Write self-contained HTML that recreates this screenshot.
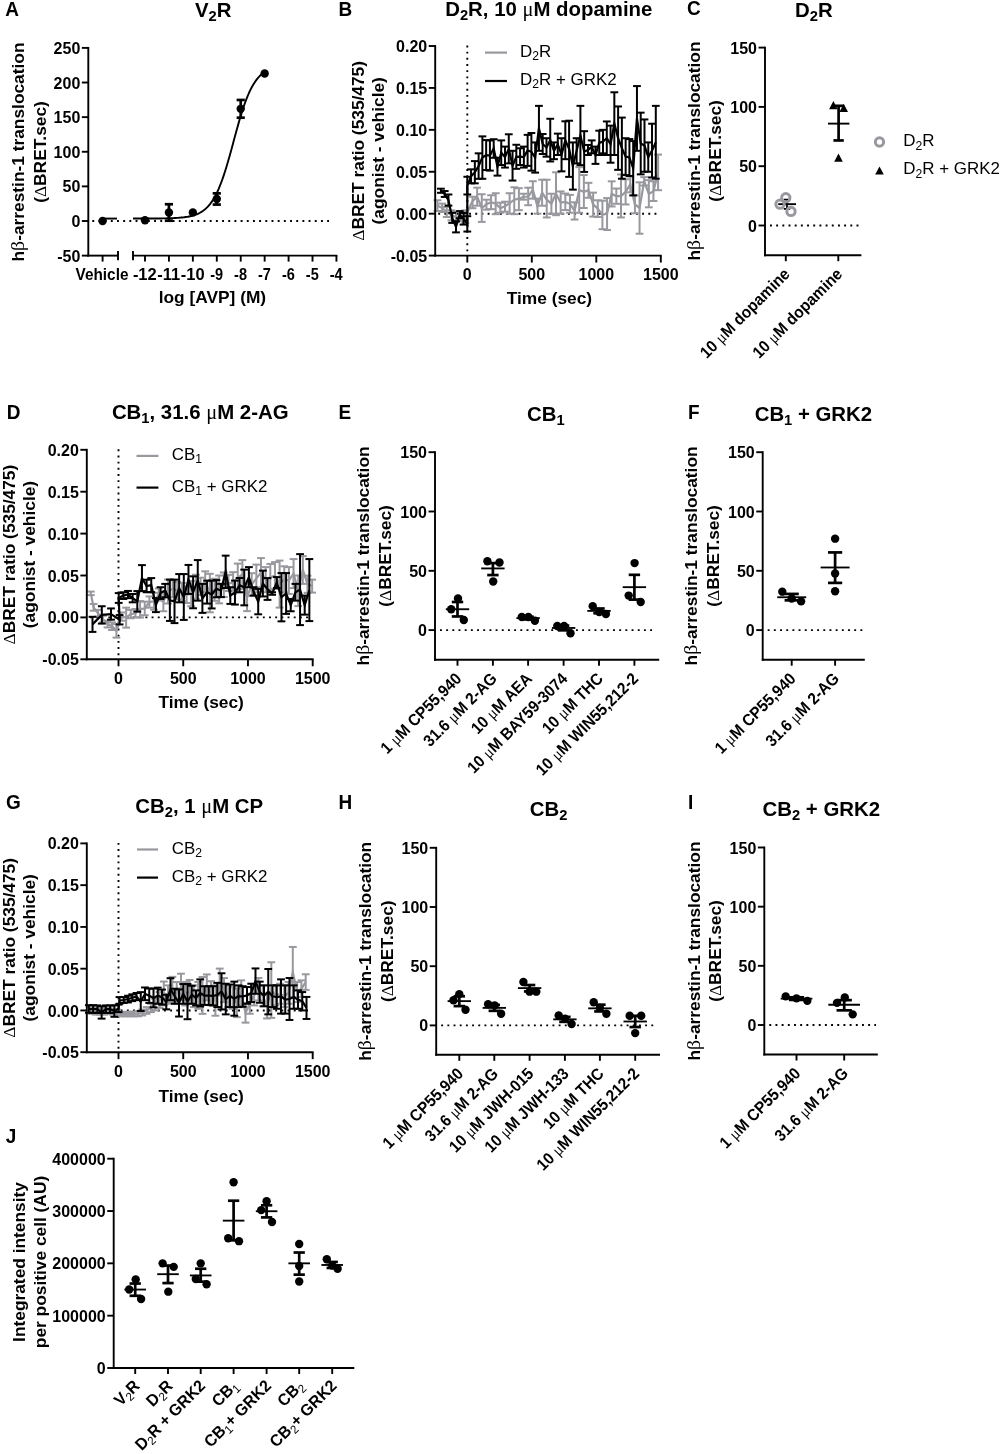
<!DOCTYPE html>
<html lang="en">
<head>
<meta charset="utf-8">
<title>Figure</title>
<style>html,body{margin:0;padding:0;background:#fff}svg{display:block;will-change:transform}</style>
</head>
<body>
<svg width="1000" height="1454" viewBox="0 0 1000 1454" font-family="'Liberation Sans', sans-serif" fill="#000">
<rect width="1000" height="1454" fill="#fff"/>
<line x1="92.3" y1="221" x2="333" y2="221" stroke="#000" stroke-width="1.9" stroke-dasharray="1.9 4.28" stroke-dashoffset="0"/>
<polyline points="133.03,218.57 134.13,218.57 135.23,218.56 136.33,218.56 137.42,218.56 138.52,218.56 139.62,218.56 140.71,218.56 141.81,218.55 142.91,218.55 144,218.55 145.1,218.55 146.2,218.54 147.29,218.54 148.39,218.53 149.49,218.53 150.58,218.52 151.68,218.52 152.78,218.51 153.87,218.5 154.97,218.5 156.07,218.49 157.16,218.48 158.26,218.47 159.36,218.45 160.45,218.44 161.55,218.43 162.65,218.41 163.75,218.39 164.84,218.37 165.94,218.35 167.04,218.32 168.13,218.29 169.23,218.26 170.33,218.23 171.42,218.19 172.52,218.14 173.62,218.1 174.71,218.04 175.81,217.98 176.91,217.92 178,217.84 179.1,217.76 180.2,217.67 181.29,217.57 182.39,217.46 183.49,217.34 184.58,217.2 185.68,217.05 186.78,216.88 187.87,216.7 188.97,216.49 190.07,216.26 191.16,216.01 192.26,215.73 193.36,215.42 194.46,215.07 195.55,214.69 196.65,214.27 197.75,213.81 198.84,213.3 199.94,212.73 201.04,212.11 202.13,211.42 203.23,210.67 204.33,209.84 205.42,208.93 206.52,207.93 207.62,206.83 208.71,205.63 209.81,204.33 210.91,202.9 212,201.35 213.1,199.67 214.2,197.85 215.29,195.88 216.39,193.76 217.49,191.48 218.58,189.05 219.68,186.44 220.78,183.68 221.88,180.75 222.97,177.66 224.07,174.41 225.17,171.01 226.26,167.47 227.36,163.8 228.46,160.03 229.55,156.15 230.65,152.19 231.75,148.18 232.84,144.13 233.94,140.07 235.04,136.01 236.13,131.99 237.23,128.02 238.33,124.12 239.42,120.31 240.52,116.61 241.62,113.04 242.71,109.6 243.81,106.31 244.91,103.17 246,100.2 247.1,97.39 248.2,94.74 249.29,92.26 250.39,89.94 251.49,87.78 252.59,85.77 253.68,83.91 254.78,82.19 255.88,80.6 256.97,79.15 258.07,77.81 259.17,76.58 260.26,75.46 261.36,74.43 262.46,73.5 263.55,72.65 264.65,71.87" fill="none" stroke="#000" stroke-width="1.9"/>
<line x1="102.6" y1="218.58" x2="117" y2="218.58" stroke="#000" stroke-width="1.9"/>
<circle cx="145" cy="220.31" r="4.2" fill="#000"/>
<line x1="168.93" y1="204.24" x2="168.93" y2="220.72" stroke="#000" stroke-width="2.7"/>
<line x1="164.83" y1="204.24" x2="173.03" y2="204.24" stroke="#000" stroke-width="2.7"/>
<line x1="164.83" y1="220.72" x2="173.03" y2="220.72" stroke="#000" stroke-width="2.7"/>
<circle cx="168.93" cy="212.48" r="4.2" fill="#000"/>
<circle cx="192.86" cy="212.41" r="4.2" fill="#000"/>
<line x1="216.79" y1="193.37" x2="216.79" y2="204.59" stroke="#000" stroke-width="2.7"/>
<line x1="212.69" y1="193.37" x2="220.89" y2="193.37" stroke="#000" stroke-width="2.7"/>
<line x1="212.69" y1="204.59" x2="220.89" y2="204.59" stroke="#000" stroke-width="2.7"/>
<circle cx="216.79" cy="198.98" r="4.2" fill="#000"/>
<line x1="240.72" y1="99.97" x2="240.72" y2="117.69" stroke="#000" stroke-width="2.7"/>
<line x1="236.62" y1="99.97" x2="244.82" y2="99.97" stroke="#000" stroke-width="2.7"/>
<line x1="236.62" y1="117.69" x2="244.82" y2="117.69" stroke="#000" stroke-width="2.7"/>
<circle cx="240.72" cy="108.83" r="4.2" fill="#000"/>
<circle cx="264.65" cy="73.52" r="4.2" fill="#000"/>
<circle cx="102.6" cy="221" r="4.2" fill="#000"/>
<line x1="88.3" y1="46.95" x2="88.3" y2="256.57" stroke="#000" stroke-width="1.9"/>
<line x1="81.85" y1="47.9" x2="88.3" y2="47.9" stroke="#000" stroke-width="1.9"/>
<text transform="translate(80.3 53.99) scale(0.926 1)" font-size="17.3" font-weight="bold" text-anchor="end">250</text>
<line x1="81.85" y1="82.52" x2="88.3" y2="82.52" stroke="#000" stroke-width="1.9"/>
<text transform="translate(80.3 88.61) scale(0.926 1)" font-size="17.3" font-weight="bold" text-anchor="end">200</text>
<line x1="81.85" y1="117.14" x2="88.3" y2="117.14" stroke="#000" stroke-width="1.9"/>
<text transform="translate(80.3 123.23) scale(0.926 1)" font-size="17.3" font-weight="bold" text-anchor="end">150</text>
<line x1="81.85" y1="151.76" x2="88.3" y2="151.76" stroke="#000" stroke-width="1.9"/>
<text transform="translate(80.3 157.85) scale(0.926 1)" font-size="17.3" font-weight="bold" text-anchor="end">100</text>
<line x1="81.85" y1="186.38" x2="88.3" y2="186.38" stroke="#000" stroke-width="1.9"/>
<text transform="translate(80.3 192.47) scale(0.926 1)" font-size="17.3" font-weight="bold" text-anchor="end">50</text>
<line x1="81.85" y1="221" x2="88.3" y2="221" stroke="#000" stroke-width="1.9"/>
<text transform="translate(80.3 227.09) scale(0.926 1)" font-size="17.3" font-weight="bold" text-anchor="end">0</text>
<line x1="81.85" y1="255.62" x2="88.3" y2="255.62" stroke="#000" stroke-width="1.9"/>
<text transform="translate(80.3 261.71) scale(0.926 1)" font-size="17.3" font-weight="bold" text-anchor="end">-50</text>
<line x1="87.35" y1="255.62" x2="118" y2="255.62" stroke="#000" stroke-width="1.9"/>
<line x1="118" y1="250.92" x2="118" y2="260.32" stroke="#000" stroke-width="1.9"/>
<line x1="102.6" y1="255.62" x2="102.6" y2="261.62" stroke="#000" stroke-width="1.9"/>
<line x1="133" y1="255.62" x2="337.39" y2="255.62" stroke="#000" stroke-width="1.9"/>
<line x1="133" y1="250.92" x2="133" y2="260.32" stroke="#000" stroke-width="1.9"/>
<line x1="145" y1="255.62" x2="145" y2="261.62" stroke="#000" stroke-width="1.9"/>
<text transform="translate(144.8 280)" font-size="16.5" font-weight="bold" text-anchor="middle">-12</text>
<line x1="168.93" y1="255.62" x2="168.93" y2="261.62" stroke="#000" stroke-width="1.9"/>
<text transform="translate(168.73 280)" font-size="16.5" font-weight="bold" text-anchor="middle">-11</text>
<line x1="192.86" y1="255.62" x2="192.86" y2="261.62" stroke="#000" stroke-width="1.9"/>
<text transform="translate(192.66 280)" font-size="16.5" font-weight="bold" text-anchor="middle">-10</text>
<line x1="216.79" y1="255.62" x2="216.79" y2="261.62" stroke="#000" stroke-width="1.9"/>
<text transform="translate(216.59 280) scale(0.880 1)" font-size="16.5" font-weight="bold" text-anchor="middle">-9</text>
<line x1="240.72" y1="255.62" x2="240.72" y2="261.62" stroke="#000" stroke-width="1.9"/>
<text transform="translate(240.52 280) scale(0.880 1)" font-size="16.5" font-weight="bold" text-anchor="middle">-8</text>
<line x1="264.65" y1="255.62" x2="264.65" y2="261.62" stroke="#000" stroke-width="1.9"/>
<text transform="translate(264.45 280) scale(0.880 1)" font-size="16.5" font-weight="bold" text-anchor="middle">-7</text>
<line x1="288.58" y1="255.62" x2="288.58" y2="261.62" stroke="#000" stroke-width="1.9"/>
<text transform="translate(288.38 280) scale(0.880 1)" font-size="16.5" font-weight="bold" text-anchor="middle">-6</text>
<line x1="312.51" y1="255.62" x2="312.51" y2="261.62" stroke="#000" stroke-width="1.9"/>
<text transform="translate(312.31 280) scale(0.880 1)" font-size="16.5" font-weight="bold" text-anchor="middle">-5</text>
<line x1="336.44" y1="255.62" x2="336.44" y2="261.62" stroke="#000" stroke-width="1.9"/>
<text transform="translate(336.24 280) scale(0.880 1)" font-size="16.5" font-weight="bold" text-anchor="middle">-4</text>
<text transform="translate(102 280) scale(0.930 1)" font-size="16.5" font-weight="bold" text-anchor="middle">Vehicle</text>
<text transform="translate(212.4 302.6) scale(1.020 1)" font-size="17" font-weight="bold" text-anchor="middle">log [AVP] (M)</text>
<text transform="translate(24.1 152) rotate(-90) scale(1.020 1)" font-size="17" font-weight="bold" text-anchor="middle">h<tspan font-family="'Liberation Serif', serif" font-weight="normal" font-size="114%">&#946;</tspan>-arrestin-1 translocation</text>
<text transform="translate(45.6 152) rotate(-90) scale(1.020 1)" font-size="17" font-weight="bold" text-anchor="middle">(<tspan font-family="'Liberation Serif', serif" font-weight="normal">&#916;</tspan>BRET.sec)</text>
<text transform="translate(5.3 16.3) scale(0.935 1)" font-size="20.3" font-weight="bold" text-anchor="start">A</text>
<text transform="translate(213.2 16.9)" font-size="20.4" font-weight="bold" text-anchor="middle">V<tspan dy="4.28" font-size="14.69">2</tspan><tspan dy="-4.28">&#8203;</tspan>R</text>
<line x1="467.3" y1="45.5" x2="467.3" y2="255.6" stroke="#000" stroke-width="1.9" stroke-dasharray="1.9 4.28" stroke-dashoffset="0"/>
<line x1="438.2" y1="213.68" x2="658.7" y2="213.68" stroke="#000" stroke-width="1.9" stroke-dasharray="1.9 4.28" stroke-dashoffset="0"/>
<line x1="437.46" y1="200.27" x2="437.46" y2="211" stroke="#98989f" stroke-width="2"/>
<line x1="433.56" y1="200.27" x2="441.36" y2="200.27" stroke="#98989f" stroke-width="2"/>
<line x1="433.56" y1="211" x2="441.36" y2="211" stroke="#98989f" stroke-width="2"/>
<line x1="442.1" y1="203.62" x2="442.1" y2="212" stroke="#98989f" stroke-width="2"/>
<line x1="438.2" y1="203.62" x2="446" y2="203.62" stroke="#98989f" stroke-width="2"/>
<line x1="438.2" y1="212" x2="446" y2="212" stroke="#98989f" stroke-width="2"/>
<line x1="446.74" y1="206.97" x2="446.74" y2="217.03" stroke="#98989f" stroke-width="2"/>
<line x1="442.84" y1="206.97" x2="450.64" y2="206.97" stroke="#98989f" stroke-width="2"/>
<line x1="442.84" y1="217.03" x2="450.64" y2="217.03" stroke="#98989f" stroke-width="2"/>
<line x1="451.38" y1="210.33" x2="451.38" y2="220.39" stroke="#98989f" stroke-width="2"/>
<line x1="447.48" y1="210.33" x2="455.28" y2="210.33" stroke="#98989f" stroke-width="2"/>
<line x1="447.48" y1="220.39" x2="455.28" y2="220.39" stroke="#98989f" stroke-width="2"/>
<line x1="456.02" y1="212" x2="456.02" y2="222.06" stroke="#98989f" stroke-width="2"/>
<line x1="452.12" y1="212" x2="459.92" y2="212" stroke="#98989f" stroke-width="2"/>
<line x1="452.12" y1="222.06" x2="459.92" y2="222.06" stroke="#98989f" stroke-width="2"/>
<line x1="460.66" y1="211.16" x2="460.66" y2="221.23" stroke="#98989f" stroke-width="2"/>
<line x1="456.76" y1="211.16" x2="464.56" y2="211.16" stroke="#98989f" stroke-width="2"/>
<line x1="456.76" y1="221.23" x2="464.56" y2="221.23" stroke="#98989f" stroke-width="2"/>
<line x1="465.3" y1="210.33" x2="465.3" y2="222.9" stroke="#98989f" stroke-width="2"/>
<line x1="461.4" y1="210.33" x2="469.2" y2="210.33" stroke="#98989f" stroke-width="2"/>
<line x1="461.4" y1="222.9" x2="469.2" y2="222.9" stroke="#98989f" stroke-width="2"/>
<line x1="472.5" y1="196.74" x2="472.5" y2="208.23" stroke="#98989f" stroke-width="2"/>
<line x1="468.6" y1="196.74" x2="476.4" y2="196.74" stroke="#98989f" stroke-width="2"/>
<line x1="468.6" y1="208.23" x2="476.4" y2="208.23" stroke="#98989f" stroke-width="2"/>
<line x1="477.14" y1="187.69" x2="477.14" y2="205.72" stroke="#98989f" stroke-width="2"/>
<line x1="473.24" y1="187.69" x2="481.04" y2="187.69" stroke="#98989f" stroke-width="2"/>
<line x1="473.24" y1="205.72" x2="481.04" y2="205.72" stroke="#98989f" stroke-width="2"/>
<line x1="481.78" y1="194.23" x2="481.78" y2="221.9" stroke="#98989f" stroke-width="2"/>
<line x1="477.88" y1="194.23" x2="485.68" y2="194.23" stroke="#98989f" stroke-width="2"/>
<line x1="477.88" y1="221.9" x2="485.68" y2="221.9" stroke="#98989f" stroke-width="2"/>
<line x1="486.42" y1="199.68" x2="486.42" y2="209.66" stroke="#98989f" stroke-width="2"/>
<line x1="482.52" y1="199.68" x2="490.32" y2="199.68" stroke="#98989f" stroke-width="2"/>
<line x1="482.52" y1="209.66" x2="490.32" y2="209.66" stroke="#98989f" stroke-width="2"/>
<line x1="491.06" y1="195.24" x2="491.06" y2="209.15" stroke="#98989f" stroke-width="2"/>
<line x1="487.16" y1="195.24" x2="494.96" y2="195.24" stroke="#98989f" stroke-width="2"/>
<line x1="487.16" y1="209.15" x2="494.96" y2="209.15" stroke="#98989f" stroke-width="2"/>
<line x1="495.7" y1="193.22" x2="495.7" y2="214.18" stroke="#98989f" stroke-width="2"/>
<line x1="491.8" y1="193.22" x2="499.6" y2="193.22" stroke="#98989f" stroke-width="2"/>
<line x1="491.8" y1="214.18" x2="499.6" y2="214.18" stroke="#98989f" stroke-width="2"/>
<line x1="500.34" y1="202.7" x2="500.34" y2="212.67" stroke="#98989f" stroke-width="2"/>
<line x1="496.44" y1="202.7" x2="504.24" y2="202.7" stroke="#98989f" stroke-width="2"/>
<line x1="496.44" y1="212.67" x2="504.24" y2="212.67" stroke="#98989f" stroke-width="2"/>
<line x1="504.98" y1="201.69" x2="504.98" y2="211.67" stroke="#98989f" stroke-width="2"/>
<line x1="501.08" y1="201.69" x2="508.88" y2="201.69" stroke="#98989f" stroke-width="2"/>
<line x1="501.08" y1="211.67" x2="508.88" y2="211.67" stroke="#98989f" stroke-width="2"/>
<line x1="509.62" y1="193.22" x2="509.62" y2="213.68" stroke="#98989f" stroke-width="2"/>
<line x1="505.72" y1="193.22" x2="513.52" y2="193.22" stroke="#98989f" stroke-width="2"/>
<line x1="505.72" y1="213.68" x2="513.52" y2="213.68" stroke="#98989f" stroke-width="2"/>
<line x1="514.26" y1="187.27" x2="514.26" y2="214.18" stroke="#98989f" stroke-width="2"/>
<line x1="510.36" y1="187.27" x2="518.16" y2="187.27" stroke="#98989f" stroke-width="2"/>
<line x1="510.36" y1="214.18" x2="518.16" y2="214.18" stroke="#98989f" stroke-width="2"/>
<line x1="518.9" y1="188.19" x2="518.9" y2="210.16" stroke="#98989f" stroke-width="2"/>
<line x1="515" y1="188.19" x2="522.8" y2="188.19" stroke="#98989f" stroke-width="2"/>
<line x1="515" y1="210.16" x2="522.8" y2="210.16" stroke="#98989f" stroke-width="2"/>
<line x1="523.54" y1="193.73" x2="523.54" y2="199.68" stroke="#98989f" stroke-width="2"/>
<line x1="519.64" y1="193.73" x2="527.44" y2="193.73" stroke="#98989f" stroke-width="2"/>
<line x1="519.64" y1="199.68" x2="527.44" y2="199.68" stroke="#98989f" stroke-width="2"/>
<line x1="528.18" y1="187.69" x2="528.18" y2="205.21" stroke="#98989f" stroke-width="2"/>
<line x1="524.28" y1="187.69" x2="532.08" y2="187.69" stroke="#98989f" stroke-width="2"/>
<line x1="524.28" y1="205.21" x2="532.08" y2="205.21" stroke="#98989f" stroke-width="2"/>
<line x1="532.82" y1="181.23" x2="532.82" y2="198.67" stroke="#98989f" stroke-width="2"/>
<line x1="528.92" y1="181.23" x2="536.72" y2="181.23" stroke="#98989f" stroke-width="2"/>
<line x1="528.92" y1="198.67" x2="536.72" y2="198.67" stroke="#98989f" stroke-width="2"/>
<line x1="537.46" y1="198.67" x2="537.46" y2="213.68" stroke="#98989f" stroke-width="2"/>
<line x1="533.56" y1="198.67" x2="541.36" y2="198.67" stroke="#98989f" stroke-width="2"/>
<line x1="533.56" y1="213.68" x2="541.36" y2="213.68" stroke="#98989f" stroke-width="2"/>
<line x1="542.1" y1="179.72" x2="542.1" y2="205.72" stroke="#98989f" stroke-width="2"/>
<line x1="538.2" y1="179.72" x2="546" y2="179.72" stroke="#98989f" stroke-width="2"/>
<line x1="538.2" y1="205.72" x2="546" y2="205.72" stroke="#98989f" stroke-width="2"/>
<line x1="546.74" y1="179.72" x2="546.74" y2="217.45" stroke="#98989f" stroke-width="2"/>
<line x1="542.84" y1="179.72" x2="550.64" y2="179.72" stroke="#98989f" stroke-width="2"/>
<line x1="542.84" y1="217.45" x2="550.64" y2="217.45" stroke="#98989f" stroke-width="2"/>
<line x1="551.38" y1="193.73" x2="551.38" y2="213.68" stroke="#98989f" stroke-width="2"/>
<line x1="547.48" y1="193.73" x2="555.28" y2="193.73" stroke="#98989f" stroke-width="2"/>
<line x1="547.48" y1="213.68" x2="555.28" y2="213.68" stroke="#98989f" stroke-width="2"/>
<line x1="556.02" y1="172.26" x2="556.02" y2="215.19" stroke="#98989f" stroke-width="2"/>
<line x1="552.12" y1="172.26" x2="559.92" y2="172.26" stroke="#98989f" stroke-width="2"/>
<line x1="552.12" y1="215.19" x2="559.92" y2="215.19" stroke="#98989f" stroke-width="2"/>
<line x1="560.66" y1="191.46" x2="560.66" y2="213.68" stroke="#98989f" stroke-width="2"/>
<line x1="556.76" y1="191.46" x2="564.56" y2="191.46" stroke="#98989f" stroke-width="2"/>
<line x1="556.76" y1="213.68" x2="564.56" y2="213.68" stroke="#98989f" stroke-width="2"/>
<line x1="565.3" y1="193.56" x2="565.3" y2="210.07" stroke="#98989f" stroke-width="2"/>
<line x1="561.4" y1="193.56" x2="569.2" y2="193.56" stroke="#98989f" stroke-width="2"/>
<line x1="561.4" y1="210.07" x2="569.2" y2="210.07" stroke="#98989f" stroke-width="2"/>
<line x1="569.94" y1="194.9" x2="569.94" y2="212.76" stroke="#98989f" stroke-width="2"/>
<line x1="566.04" y1="194.9" x2="573.84" y2="194.9" stroke="#98989f" stroke-width="2"/>
<line x1="566.04" y1="212.76" x2="573.84" y2="212.76" stroke="#98989f" stroke-width="2"/>
<line x1="574.58" y1="202.28" x2="574.58" y2="219.55" stroke="#98989f" stroke-width="2"/>
<line x1="570.68" y1="202.28" x2="578.48" y2="202.28" stroke="#98989f" stroke-width="2"/>
<line x1="570.68" y1="219.55" x2="578.48" y2="219.55" stroke="#98989f" stroke-width="2"/>
<line x1="579.22" y1="167.15" x2="579.22" y2="212.76" stroke="#98989f" stroke-width="2"/>
<line x1="575.32" y1="167.15" x2="583.12" y2="167.15" stroke="#98989f" stroke-width="2"/>
<line x1="575.32" y1="212.76" x2="583.12" y2="212.76" stroke="#98989f" stroke-width="2"/>
<line x1="583.86" y1="175.03" x2="583.86" y2="207.98" stroke="#98989f" stroke-width="2"/>
<line x1="579.96" y1="175.03" x2="587.76" y2="175.03" stroke="#98989f" stroke-width="2"/>
<line x1="579.96" y1="207.98" x2="587.76" y2="207.98" stroke="#98989f" stroke-width="2"/>
<line x1="588.5" y1="182.83" x2="588.5" y2="197.75" stroke="#98989f" stroke-width="2"/>
<line x1="584.6" y1="182.83" x2="592.4" y2="182.83" stroke="#98989f" stroke-width="2"/>
<line x1="584.6" y1="197.75" x2="592.4" y2="197.75" stroke="#98989f" stroke-width="2"/>
<line x1="593.14" y1="192.64" x2="593.14" y2="216.61" stroke="#98989f" stroke-width="2"/>
<line x1="589.24" y1="192.64" x2="597.04" y2="192.64" stroke="#98989f" stroke-width="2"/>
<line x1="589.24" y1="216.61" x2="597.04" y2="216.61" stroke="#98989f" stroke-width="2"/>
<line x1="597.78" y1="200.27" x2="597.78" y2="217.03" stroke="#98989f" stroke-width="2"/>
<line x1="593.88" y1="200.27" x2="601.68" y2="200.27" stroke="#98989f" stroke-width="2"/>
<line x1="593.88" y1="217.03" x2="601.68" y2="217.03" stroke="#98989f" stroke-width="2"/>
<line x1="602.42" y1="200.68" x2="602.42" y2="229.19" stroke="#98989f" stroke-width="2"/>
<line x1="598.52" y1="200.68" x2="606.32" y2="200.68" stroke="#98989f" stroke-width="2"/>
<line x1="598.52" y1="229.19" x2="606.32" y2="229.19" stroke="#98989f" stroke-width="2"/>
<line x1="607.06" y1="198.09" x2="607.06" y2="230.03" stroke="#98989f" stroke-width="2"/>
<line x1="603.16" y1="198.09" x2="610.96" y2="198.09" stroke="#98989f" stroke-width="2"/>
<line x1="603.16" y1="230.03" x2="610.96" y2="230.03" stroke="#98989f" stroke-width="2"/>
<line x1="611.7" y1="181.32" x2="611.7" y2="206.47" stroke="#98989f" stroke-width="2"/>
<line x1="607.8" y1="181.32" x2="615.6" y2="181.32" stroke="#98989f" stroke-width="2"/>
<line x1="607.8" y1="206.47" x2="615.6" y2="206.47" stroke="#98989f" stroke-width="2"/>
<line x1="616.34" y1="188.53" x2="616.34" y2="203.79" stroke="#98989f" stroke-width="2"/>
<line x1="612.44" y1="188.53" x2="620.24" y2="188.53" stroke="#98989f" stroke-width="2"/>
<line x1="612.44" y1="203.79" x2="620.24" y2="203.79" stroke="#98989f" stroke-width="2"/>
<line x1="620.98" y1="174.44" x2="620.98" y2="217.45" stroke="#98989f" stroke-width="2"/>
<line x1="617.08" y1="174.44" x2="624.88" y2="174.44" stroke="#98989f" stroke-width="2"/>
<line x1="617.08" y1="217.45" x2="624.88" y2="217.45" stroke="#98989f" stroke-width="2"/>
<line x1="625.62" y1="179.31" x2="625.62" y2="204.46" stroke="#98989f" stroke-width="2"/>
<line x1="621.72" y1="179.31" x2="629.52" y2="179.31" stroke="#98989f" stroke-width="2"/>
<line x1="621.72" y1="204.46" x2="629.52" y2="204.46" stroke="#98989f" stroke-width="2"/>
<line x1="630.26" y1="176.54" x2="630.26" y2="192.3" stroke="#98989f" stroke-width="2"/>
<line x1="626.36" y1="176.54" x2="634.16" y2="176.54" stroke="#98989f" stroke-width="2"/>
<line x1="626.36" y1="192.3" x2="634.16" y2="192.3" stroke="#98989f" stroke-width="2"/>
<line x1="634.9" y1="195.4" x2="634.9" y2="213.26" stroke="#98989f" stroke-width="2"/>
<line x1="631" y1="195.4" x2="638.8" y2="195.4" stroke="#98989f" stroke-width="2"/>
<line x1="631" y1="213.26" x2="638.8" y2="213.26" stroke="#98989f" stroke-width="2"/>
<line x1="639.54" y1="182.32" x2="639.54" y2="233.72" stroke="#98989f" stroke-width="2"/>
<line x1="635.64" y1="182.32" x2="643.44" y2="182.32" stroke="#98989f" stroke-width="2"/>
<line x1="635.64" y1="233.72" x2="643.44" y2="233.72" stroke="#98989f" stroke-width="2"/>
<line x1="644.18" y1="177.13" x2="644.18" y2="185.51" stroke="#98989f" stroke-width="2"/>
<line x1="640.28" y1="177.13" x2="648.08" y2="177.13" stroke="#98989f" stroke-width="2"/>
<line x1="640.28" y1="185.51" x2="648.08" y2="185.51" stroke="#98989f" stroke-width="2"/>
<line x1="648.82" y1="180.14" x2="648.82" y2="207.31" stroke="#98989f" stroke-width="2"/>
<line x1="644.92" y1="180.14" x2="652.72" y2="180.14" stroke="#98989f" stroke-width="2"/>
<line x1="644.92" y1="207.31" x2="652.72" y2="207.31" stroke="#98989f" stroke-width="2"/>
<line x1="653.46" y1="181.32" x2="653.46" y2="201.02" stroke="#98989f" stroke-width="2"/>
<line x1="649.56" y1="181.32" x2="657.36" y2="181.32" stroke="#98989f" stroke-width="2"/>
<line x1="649.56" y1="201.02" x2="657.36" y2="201.02" stroke="#98989f" stroke-width="2"/>
<line x1="658.1" y1="154.57" x2="658.1" y2="190.2" stroke="#98989f" stroke-width="2"/>
<line x1="654.2" y1="154.57" x2="662" y2="154.57" stroke="#98989f" stroke-width="2"/>
<line x1="654.2" y1="190.2" x2="662" y2="190.2" stroke="#98989f" stroke-width="2"/>
<polyline points="437.46,205.63 442.1,207.81 446.74,212 451.38,215.36 456.02,217.03 460.66,216.2 465.3,216.61 472.5,201.1 477.14,196.74 481.78,208.23 486.42,204.21 491.06,202.19 495.7,203.7 500.34,208.23 504.98,206.22 509.62,203.2 514.26,199.68 518.9,198.67 523.54,196.74 528.18,196.74 532.82,189.7 537.46,206.22 542.1,192.72 546.74,199.68 551.38,203.7 556.02,193.73 560.66,202.53 565.3,201.94 569.94,203.79 574.58,210.66 579.22,190.2 583.86,191.8 588.5,190.2 593.14,204.37 597.78,208.65 602.42,214.85 607.06,213.68 611.7,193.89 616.34,196.07 620.98,196.07 625.62,191.88 630.26,184.34 634.9,204.46 639.54,207.98 644.18,181.32 648.82,193.89 653.46,191.21 658.1,172.35" fill="none" stroke="#98989f" stroke-width="2.2" stroke-linejoin="miter" stroke-miterlimit="6"/>
<line x1="440.91" y1="188.7" x2="440.91" y2="192.8" stroke="#000" stroke-width="2"/>
<line x1="437.01" y1="188.7" x2="444.81" y2="188.7" stroke="#000" stroke-width="2"/>
<line x1="437.01" y1="192.8" x2="444.81" y2="192.8" stroke="#000" stroke-width="2"/>
<line x1="444.68" y1="191.04" x2="444.68" y2="196.91" stroke="#000" stroke-width="2"/>
<line x1="440.78" y1="191.04" x2="448.58" y2="191.04" stroke="#000" stroke-width="2"/>
<line x1="440.78" y1="196.91" x2="448.58" y2="196.91" stroke="#000" stroke-width="2"/>
<line x1="448.45" y1="194.48" x2="448.45" y2="205.63" stroke="#000" stroke-width="2"/>
<line x1="444.55" y1="194.48" x2="452.35" y2="194.48" stroke="#000" stroke-width="2"/>
<line x1="444.55" y1="205.63" x2="452.35" y2="205.63" stroke="#000" stroke-width="2"/>
<line x1="452.22" y1="212.84" x2="452.22" y2="222.9" stroke="#000" stroke-width="2"/>
<line x1="448.32" y1="212.84" x2="456.12" y2="212.84" stroke="#000" stroke-width="2"/>
<line x1="448.32" y1="222.9" x2="456.12" y2="222.9" stroke="#000" stroke-width="2"/>
<line x1="455.99" y1="221.23" x2="455.99" y2="232.38" stroke="#000" stroke-width="2"/>
<line x1="452.09" y1="221.23" x2="459.89" y2="221.23" stroke="#000" stroke-width="2"/>
<line x1="452.09" y1="232.38" x2="459.89" y2="232.38" stroke="#000" stroke-width="2"/>
<line x1="459.76" y1="211.16" x2="459.76" y2="218.29" stroke="#000" stroke-width="2"/>
<line x1="455.86" y1="211.16" x2="463.66" y2="211.16" stroke="#000" stroke-width="2"/>
<line x1="455.86" y1="218.29" x2="463.66" y2="218.29" stroke="#000" stroke-width="2"/>
<line x1="463.53" y1="213.01" x2="463.53" y2="224.58" stroke="#000" stroke-width="2"/>
<line x1="459.63" y1="213.01" x2="467.43" y2="213.01" stroke="#000" stroke-width="2"/>
<line x1="459.63" y1="224.58" x2="467.43" y2="224.58" stroke="#000" stroke-width="2"/>
<line x1="467.3" y1="216.2" x2="467.3" y2="231.54" stroke="#000" stroke-width="2"/>
<line x1="463.4" y1="216.2" x2="471.2" y2="216.2" stroke="#000" stroke-width="2"/>
<line x1="463.4" y1="231.54" x2="471.2" y2="231.54" stroke="#000" stroke-width="2"/>
<line x1="467.3" y1="176.79" x2="467.3" y2="194.48" stroke="#000" stroke-width="2"/>
<line x1="463.4" y1="176.79" x2="471.2" y2="176.79" stroke="#000" stroke-width="2"/>
<line x1="463.4" y1="194.48" x2="471.2" y2="194.48" stroke="#000" stroke-width="2"/>
<line x1="471.07" y1="169.33" x2="471.07" y2="183.33" stroke="#000" stroke-width="2"/>
<line x1="467.17" y1="169.33" x2="474.97" y2="169.33" stroke="#000" stroke-width="2"/>
<line x1="467.17" y1="183.33" x2="474.97" y2="183.33" stroke="#000" stroke-width="2"/>
<line x1="474.84" y1="161.11" x2="474.84" y2="183.33" stroke="#000" stroke-width="2"/>
<line x1="470.94" y1="161.11" x2="478.74" y2="161.11" stroke="#000" stroke-width="2"/>
<line x1="470.94" y1="183.33" x2="478.74" y2="183.33" stroke="#000" stroke-width="2"/>
<line x1="478.61" y1="153.32" x2="478.61" y2="178.8" stroke="#000" stroke-width="2"/>
<line x1="474.71" y1="153.32" x2="482.51" y2="153.32" stroke="#000" stroke-width="2"/>
<line x1="474.71" y1="178.8" x2="482.51" y2="178.8" stroke="#000" stroke-width="2"/>
<line x1="482.38" y1="136.38" x2="482.38" y2="178.8" stroke="#000" stroke-width="2"/>
<line x1="478.48" y1="136.38" x2="486.28" y2="136.38" stroke="#000" stroke-width="2"/>
<line x1="478.48" y1="178.8" x2="486.28" y2="178.8" stroke="#000" stroke-width="2"/>
<line x1="486.15" y1="140.07" x2="486.15" y2="170.08" stroke="#000" stroke-width="2"/>
<line x1="482.25" y1="140.07" x2="490.05" y2="140.07" stroke="#000" stroke-width="2"/>
<line x1="482.25" y1="170.08" x2="490.05" y2="170.08" stroke="#000" stroke-width="2"/>
<line x1="489.92" y1="140.49" x2="489.92" y2="170.59" stroke="#000" stroke-width="2"/>
<line x1="486.02" y1="140.49" x2="493.82" y2="140.49" stroke="#000" stroke-width="2"/>
<line x1="486.02" y1="170.59" x2="493.82" y2="170.59" stroke="#000" stroke-width="2"/>
<line x1="493.69" y1="139.23" x2="493.69" y2="157.76" stroke="#000" stroke-width="2"/>
<line x1="489.79" y1="139.23" x2="497.59" y2="139.23" stroke="#000" stroke-width="2"/>
<line x1="489.79" y1="157.76" x2="497.59" y2="157.76" stroke="#000" stroke-width="2"/>
<line x1="497.46" y1="157.76" x2="497.46" y2="175.62" stroke="#000" stroke-width="2"/>
<line x1="493.56" y1="157.76" x2="501.36" y2="157.76" stroke="#000" stroke-width="2"/>
<line x1="493.56" y1="175.62" x2="501.36" y2="175.62" stroke="#000" stroke-width="2"/>
<line x1="501.23" y1="140.4" x2="501.23" y2="165.05" stroke="#000" stroke-width="2"/>
<line x1="497.33" y1="140.4" x2="505.13" y2="140.4" stroke="#000" stroke-width="2"/>
<line x1="497.33" y1="165.05" x2="505.13" y2="165.05" stroke="#000" stroke-width="2"/>
<line x1="505" y1="146.61" x2="505" y2="167.57" stroke="#000" stroke-width="2"/>
<line x1="501.1" y1="146.61" x2="508.9" y2="146.61" stroke="#000" stroke-width="2"/>
<line x1="501.1" y1="167.57" x2="508.9" y2="167.57" stroke="#000" stroke-width="2"/>
<line x1="508.77" y1="134.28" x2="508.77" y2="163.38" stroke="#000" stroke-width="2"/>
<line x1="504.87" y1="134.28" x2="512.67" y2="134.28" stroke="#000" stroke-width="2"/>
<line x1="504.87" y1="163.38" x2="512.67" y2="163.38" stroke="#000" stroke-width="2"/>
<line x1="512.54" y1="150.8" x2="512.54" y2="180.56" stroke="#000" stroke-width="2"/>
<line x1="508.64" y1="150.8" x2="516.44" y2="150.8" stroke="#000" stroke-width="2"/>
<line x1="508.64" y1="180.56" x2="516.44" y2="180.56" stroke="#000" stroke-width="2"/>
<line x1="516.31" y1="144.76" x2="516.31" y2="168.83" stroke="#000" stroke-width="2"/>
<line x1="512.41" y1="144.76" x2="520.21" y2="144.76" stroke="#000" stroke-width="2"/>
<line x1="512.41" y1="168.83" x2="520.21" y2="168.83" stroke="#000" stroke-width="2"/>
<line x1="520.08" y1="148.28" x2="520.08" y2="165.05" stroke="#000" stroke-width="2"/>
<line x1="516.18" y1="148.28" x2="523.98" y2="148.28" stroke="#000" stroke-width="2"/>
<line x1="516.18" y1="165.05" x2="523.98" y2="165.05" stroke="#000" stroke-width="2"/>
<line x1="523.85" y1="146.61" x2="523.85" y2="167.57" stroke="#000" stroke-width="2"/>
<line x1="519.95" y1="146.61" x2="527.75" y2="146.61" stroke="#000" stroke-width="2"/>
<line x1="519.95" y1="167.57" x2="527.75" y2="167.57" stroke="#000" stroke-width="2"/>
<line x1="527.62" y1="134.87" x2="527.62" y2="165.89" stroke="#000" stroke-width="2"/>
<line x1="523.72" y1="134.87" x2="531.52" y2="134.87" stroke="#000" stroke-width="2"/>
<line x1="523.72" y1="165.89" x2="531.52" y2="165.89" stroke="#000" stroke-width="2"/>
<line x1="531.39" y1="133.03" x2="531.39" y2="170.67" stroke="#000" stroke-width="2"/>
<line x1="527.49" y1="133.03" x2="535.29" y2="133.03" stroke="#000" stroke-width="2"/>
<line x1="527.49" y1="170.67" x2="535.29" y2="170.67" stroke="#000" stroke-width="2"/>
<line x1="535.16" y1="142.42" x2="535.16" y2="172.6" stroke="#000" stroke-width="2"/>
<line x1="531.26" y1="142.42" x2="539.06" y2="142.42" stroke="#000" stroke-width="2"/>
<line x1="531.26" y1="172.6" x2="539.06" y2="172.6" stroke="#000" stroke-width="2"/>
<line x1="538.93" y1="105.86" x2="538.93" y2="150.8" stroke="#000" stroke-width="2"/>
<line x1="535.03" y1="105.86" x2="542.83" y2="105.86" stroke="#000" stroke-width="2"/>
<line x1="535.03" y1="150.8" x2="542.83" y2="150.8" stroke="#000" stroke-width="2"/>
<line x1="542.7" y1="134.03" x2="542.7" y2="153.99" stroke="#000" stroke-width="2"/>
<line x1="538.8" y1="134.03" x2="546.6" y2="134.03" stroke="#000" stroke-width="2"/>
<line x1="538.8" y1="153.99" x2="546.6" y2="153.99" stroke="#000" stroke-width="2"/>
<line x1="546.47" y1="138.22" x2="546.47" y2="156.67" stroke="#000" stroke-width="2"/>
<line x1="542.57" y1="138.22" x2="550.37" y2="138.22" stroke="#000" stroke-width="2"/>
<line x1="542.57" y1="156.67" x2="550.37" y2="156.67" stroke="#000" stroke-width="2"/>
<line x1="550.24" y1="118.77" x2="550.24" y2="161.45" stroke="#000" stroke-width="2"/>
<line x1="546.34" y1="118.77" x2="554.14" y2="118.77" stroke="#000" stroke-width="2"/>
<line x1="546.34" y1="161.45" x2="554.14" y2="161.45" stroke="#000" stroke-width="2"/>
<line x1="554.01" y1="142.42" x2="554.01" y2="159.18" stroke="#000" stroke-width="2"/>
<line x1="550.11" y1="142.42" x2="557.91" y2="142.42" stroke="#000" stroke-width="2"/>
<line x1="550.11" y1="159.18" x2="557.91" y2="159.18" stroke="#000" stroke-width="2"/>
<line x1="557.78" y1="133.61" x2="557.78" y2="154.99" stroke="#000" stroke-width="2"/>
<line x1="553.88" y1="133.61" x2="561.68" y2="133.61" stroke="#000" stroke-width="2"/>
<line x1="553.88" y1="154.99" x2="561.68" y2="154.99" stroke="#000" stroke-width="2"/>
<line x1="561.55" y1="138.22" x2="561.55" y2="171.34" stroke="#000" stroke-width="2"/>
<line x1="557.65" y1="138.22" x2="565.45" y2="138.22" stroke="#000" stroke-width="2"/>
<line x1="557.65" y1="171.34" x2="565.45" y2="171.34" stroke="#000" stroke-width="2"/>
<line x1="565.32" y1="121.29" x2="565.32" y2="159.18" stroke="#000" stroke-width="2"/>
<line x1="561.42" y1="121.29" x2="569.22" y2="121.29" stroke="#000" stroke-width="2"/>
<line x1="561.42" y1="159.18" x2="569.22" y2="159.18" stroke="#000" stroke-width="2"/>
<line x1="569.09" y1="120.7" x2="569.09" y2="176.87" stroke="#000" stroke-width="2"/>
<line x1="565.19" y1="120.7" x2="572.99" y2="120.7" stroke="#000" stroke-width="2"/>
<line x1="565.19" y1="176.87" x2="572.99" y2="176.87" stroke="#000" stroke-width="2"/>
<line x1="572.86" y1="142.42" x2="572.86" y2="189.62" stroke="#000" stroke-width="2"/>
<line x1="568.96" y1="142.42" x2="576.76" y2="142.42" stroke="#000" stroke-width="2"/>
<line x1="568.96" y1="189.62" x2="576.76" y2="189.62" stroke="#000" stroke-width="2"/>
<line x1="576.63" y1="138.22" x2="576.63" y2="163.38" stroke="#000" stroke-width="2"/>
<line x1="572.73" y1="138.22" x2="580.53" y2="138.22" stroke="#000" stroke-width="2"/>
<line x1="572.73" y1="163.38" x2="580.53" y2="163.38" stroke="#000" stroke-width="2"/>
<line x1="580.4" y1="105.86" x2="580.4" y2="165.14" stroke="#000" stroke-width="2"/>
<line x1="576.5" y1="105.86" x2="584.3" y2="105.86" stroke="#000" stroke-width="2"/>
<line x1="576.5" y1="165.14" x2="584.3" y2="165.14" stroke="#000" stroke-width="2"/>
<line x1="584.17" y1="131.18" x2="584.17" y2="171.93" stroke="#000" stroke-width="2"/>
<line x1="580.27" y1="131.18" x2="588.07" y2="131.18" stroke="#000" stroke-width="2"/>
<line x1="580.27" y1="171.93" x2="588.07" y2="171.93" stroke="#000" stroke-width="2"/>
<line x1="587.94" y1="144.93" x2="587.94" y2="154.99" stroke="#000" stroke-width="2"/>
<line x1="584.04" y1="144.93" x2="591.84" y2="144.93" stroke="#000" stroke-width="2"/>
<line x1="584.04" y1="154.99" x2="591.84" y2="154.99" stroke="#000" stroke-width="2"/>
<line x1="591.71" y1="140.4" x2="591.71" y2="153.32" stroke="#000" stroke-width="2"/>
<line x1="587.81" y1="140.4" x2="595.61" y2="140.4" stroke="#000" stroke-width="2"/>
<line x1="587.81" y1="153.32" x2="595.61" y2="153.32" stroke="#000" stroke-width="2"/>
<line x1="595.48" y1="146.61" x2="595.48" y2="163.88" stroke="#000" stroke-width="2"/>
<line x1="591.58" y1="146.61" x2="599.38" y2="146.61" stroke="#000" stroke-width="2"/>
<line x1="591.58" y1="163.88" x2="599.38" y2="163.88" stroke="#000" stroke-width="2"/>
<line x1="599.25" y1="130.68" x2="599.25" y2="154.99" stroke="#000" stroke-width="2"/>
<line x1="595.35" y1="130.68" x2="603.15" y2="130.68" stroke="#000" stroke-width="2"/>
<line x1="595.35" y1="154.99" x2="603.15" y2="154.99" stroke="#000" stroke-width="2"/>
<line x1="603.02" y1="129.84" x2="603.02" y2="153.32" stroke="#000" stroke-width="2"/>
<line x1="599.12" y1="129.84" x2="606.92" y2="129.84" stroke="#000" stroke-width="2"/>
<line x1="599.12" y1="153.32" x2="606.92" y2="153.32" stroke="#000" stroke-width="2"/>
<line x1="606.79" y1="121.46" x2="606.79" y2="154.99" stroke="#000" stroke-width="2"/>
<line x1="602.89" y1="121.46" x2="610.69" y2="121.46" stroke="#000" stroke-width="2"/>
<line x1="602.89" y1="154.99" x2="610.69" y2="154.99" stroke="#000" stroke-width="2"/>
<line x1="610.56" y1="125.65" x2="610.56" y2="162.71" stroke="#000" stroke-width="2"/>
<line x1="606.66" y1="125.65" x2="614.46" y2="125.65" stroke="#000" stroke-width="2"/>
<line x1="606.66" y1="162.71" x2="614.46" y2="162.71" stroke="#000" stroke-width="2"/>
<line x1="614.33" y1="92.28" x2="614.33" y2="154.99" stroke="#000" stroke-width="2"/>
<line x1="610.43" y1="92.28" x2="618.23" y2="92.28" stroke="#000" stroke-width="2"/>
<line x1="610.43" y1="154.99" x2="618.23" y2="154.99" stroke="#000" stroke-width="2"/>
<line x1="618.1" y1="106.45" x2="618.1" y2="169.83" stroke="#000" stroke-width="2"/>
<line x1="614.2" y1="106.45" x2="622" y2="106.45" stroke="#000" stroke-width="2"/>
<line x1="614.2" y1="169.83" x2="622" y2="169.83" stroke="#000" stroke-width="2"/>
<line x1="621.87" y1="117.6" x2="621.87" y2="178.72" stroke="#000" stroke-width="2"/>
<line x1="617.97" y1="117.6" x2="625.77" y2="117.6" stroke="#000" stroke-width="2"/>
<line x1="617.97" y1="178.72" x2="625.77" y2="178.72" stroke="#000" stroke-width="2"/>
<line x1="625.64" y1="138.22" x2="625.64" y2="175.11" stroke="#000" stroke-width="2"/>
<line x1="621.74" y1="138.22" x2="629.54" y2="138.22" stroke="#000" stroke-width="2"/>
<line x1="621.74" y1="175.11" x2="629.54" y2="175.11" stroke="#000" stroke-width="2"/>
<line x1="629.41" y1="139.06" x2="629.41" y2="175.95" stroke="#000" stroke-width="2"/>
<line x1="625.51" y1="139.06" x2="633.31" y2="139.06" stroke="#000" stroke-width="2"/>
<line x1="625.51" y1="175.95" x2="633.31" y2="175.95" stroke="#000" stroke-width="2"/>
<line x1="633.18" y1="141.07" x2="633.18" y2="195.4" stroke="#000" stroke-width="2"/>
<line x1="629.28" y1="141.07" x2="637.08" y2="141.07" stroke="#000" stroke-width="2"/>
<line x1="629.28" y1="195.4" x2="637.08" y2="195.4" stroke="#000" stroke-width="2"/>
<line x1="636.95" y1="86.08" x2="636.95" y2="150.8" stroke="#000" stroke-width="2"/>
<line x1="633.05" y1="86.08" x2="640.85" y2="86.08" stroke="#000" stroke-width="2"/>
<line x1="633.05" y1="150.8" x2="640.85" y2="150.8" stroke="#000" stroke-width="2"/>
<line x1="640.72" y1="112.65" x2="640.72" y2="174.36" stroke="#000" stroke-width="2"/>
<line x1="636.82" y1="112.65" x2="644.62" y2="112.65" stroke="#000" stroke-width="2"/>
<line x1="636.82" y1="174.36" x2="644.62" y2="174.36" stroke="#000" stroke-width="2"/>
<line x1="644.49" y1="119.44" x2="644.49" y2="171.76" stroke="#000" stroke-width="2"/>
<line x1="640.59" y1="119.44" x2="648.39" y2="119.44" stroke="#000" stroke-width="2"/>
<line x1="640.59" y1="171.76" x2="648.39" y2="171.76" stroke="#000" stroke-width="2"/>
<line x1="648.26" y1="142.42" x2="648.26" y2="171.76" stroke="#000" stroke-width="2"/>
<line x1="644.36" y1="142.42" x2="652.16" y2="142.42" stroke="#000" stroke-width="2"/>
<line x1="644.36" y1="171.76" x2="652.16" y2="171.76" stroke="#000" stroke-width="2"/>
<line x1="652.03" y1="123.72" x2="652.03" y2="177.46" stroke="#000" stroke-width="2"/>
<line x1="648.13" y1="123.72" x2="655.93" y2="123.72" stroke="#000" stroke-width="2"/>
<line x1="648.13" y1="177.46" x2="655.93" y2="177.46" stroke="#000" stroke-width="2"/>
<line x1="655.8" y1="105.86" x2="655.8" y2="178.72" stroke="#000" stroke-width="2"/>
<line x1="651.9" y1="105.86" x2="659.7" y2="105.86" stroke="#000" stroke-width="2"/>
<line x1="651.9" y1="178.72" x2="659.7" y2="178.72" stroke="#000" stroke-width="2"/>
<polyline points="440.91,190.75 444.68,193.98 448.45,200.06 452.22,217.87 455.99,226.8 459.76,214.73 463.53,218.79 467.3,223.87 467.3,185.64 471.07,176.33 474.84,172.22 478.61,166.06 482.38,157.59 486.15,155.08 489.92,155.54 493.69,148.49 497.46,166.69 501.23,152.73 505,157.09 508.77,148.83 512.54,165.68 516.31,156.79 520.08,156.67 523.85,157.09 527.62,150.38 531.39,151.85 535.16,157.51 538.93,128.33 542.7,144.01 546.47,147.45 550.24,140.11 554.01,150.8 557.78,144.3 561.55,154.78 565.32,140.24 569.09,148.79 572.86,166.02 576.63,150.8 580.4,135.5 584.17,151.55 587.94,149.96 591.71,146.86 595.48,155.24 599.25,142.84 603.02,141.58 606.79,138.22 610.56,144.18 614.33,123.64 618.1,138.14 621.87,148.16 625.64,156.67 629.41,157.51 633.18,168.24 636.95,118.44 640.72,143.51 644.49,145.6 648.26,157.09 652.03,150.59 655.8,142.29" fill="none" stroke="#000" stroke-width="2.2" stroke-linejoin="miter" stroke-miterlimit="6"/>
<line x1="435.2" y1="45.05" x2="435.2" y2="256.55" stroke="#000" stroke-width="1.9"/>
<line x1="428.75" y1="46" x2="435.2" y2="46" stroke="#000" stroke-width="1.9"/>
<text transform="translate(427.2 52.09) scale(0.926 1)" font-size="17.3" font-weight="bold" text-anchor="end">0.20</text>
<line x1="428.75" y1="87.92" x2="435.2" y2="87.92" stroke="#000" stroke-width="1.9"/>
<text transform="translate(427.2 94.01) scale(0.926 1)" font-size="17.3" font-weight="bold" text-anchor="end">0.15</text>
<line x1="428.75" y1="129.84" x2="435.2" y2="129.84" stroke="#000" stroke-width="1.9"/>
<text transform="translate(427.2 135.93) scale(0.926 1)" font-size="17.3" font-weight="bold" text-anchor="end">0.10</text>
<line x1="428.75" y1="171.76" x2="435.2" y2="171.76" stroke="#000" stroke-width="1.9"/>
<text transform="translate(427.2 177.85) scale(0.926 1)" font-size="17.3" font-weight="bold" text-anchor="end">0.05</text>
<line x1="428.75" y1="213.68" x2="435.2" y2="213.68" stroke="#000" stroke-width="1.9"/>
<text transform="translate(427.2 219.77) scale(0.926 1)" font-size="17.3" font-weight="bold" text-anchor="end">0.00</text>
<line x1="428.75" y1="255.6" x2="435.2" y2="255.6" stroke="#000" stroke-width="1.9"/>
<text transform="translate(427.2 261.69) scale(0.926 1)" font-size="17.3" font-weight="bold" text-anchor="end">-0.05</text>
<line x1="434.25" y1="255.6" x2="661.7" y2="255.6" stroke="#000" stroke-width="1.9"/>
<line x1="467.3" y1="255.6" x2="467.3" y2="262.55" stroke="#000" stroke-width="1.9"/>
<text transform="translate(467.3 280) scale(0.926 1)" font-size="17.3" font-weight="bold" text-anchor="middle">0</text>
<line x1="531.8" y1="255.6" x2="531.8" y2="262.55" stroke="#000" stroke-width="1.9"/>
<text transform="translate(531.8 280) scale(0.926 1)" font-size="17.3" font-weight="bold" text-anchor="middle">500</text>
<line x1="596.3" y1="255.6" x2="596.3" y2="262.55" stroke="#000" stroke-width="1.9"/>
<text transform="translate(596.3 280) scale(0.926 1)" font-size="17.3" font-weight="bold" text-anchor="middle">1000</text>
<line x1="660.8" y1="255.6" x2="660.8" y2="262.55" stroke="#000" stroke-width="1.9"/>
<text transform="translate(660.8 280) scale(0.926 1)" font-size="17.3" font-weight="bold" text-anchor="middle">1500</text>
<text transform="translate(549.45 303.8) scale(1.020 1)" font-size="17" font-weight="bold" text-anchor="middle">Time (sec)</text>
<text transform="translate(363.5 150.8) rotate(-90) scale(1.020 1)" font-size="17" font-weight="bold" text-anchor="middle"><tspan font-family="'Liberation Serif', serif" font-weight="normal">&#916;</tspan>BRET ratio (535/475)</text>
<text transform="translate(383.7 150.8) rotate(-90) scale(1.020 1)" font-size="17" font-weight="bold" text-anchor="middle">(agonist - vehicle)</text>
<text transform="translate(338.5 16) scale(0.935 1)" font-size="20.3" font-weight="bold" text-anchor="start">B</text>
<text transform="translate(548.8 16)" font-size="20.4" font-weight="bold" text-anchor="middle">D<tspan dy="4.28" font-size="14.69">2</tspan><tspan dy="-4.28">&#8203;</tspan>R, 10 <tspan font-family="'Liberation Serif', serif" font-weight="normal">&#956;</tspan>M dopamine</text>
<line x1="485" y1="52.6" x2="507" y2="52.6" stroke="#98989f" stroke-width="2.2"/>
<line x1="485" y1="81" x2="507" y2="81" stroke="#000" stroke-width="2.2"/>
<text transform="translate(520 57) scale(1.020 1)" font-size="16.6" font-weight="normal" text-anchor="start">D<tspan dy="3.49" font-size="11.95">2</tspan><tspan dy="-3.49">&#8203;</tspan>R</text>
<text transform="translate(520 84.5) scale(1.020 1)" font-size="16.6" font-weight="normal" text-anchor="start">D<tspan dy="3.49" font-size="11.95">2</tspan><tspan dy="-3.49">&#8203;</tspan>R + GRK2</text>
<line x1="770" y1="225.5" x2="860" y2="225.5" stroke="#000" stroke-width="1.9" stroke-dasharray="1.9 4.28" stroke-dashoffset="0"/>
<line x1="778.2" y1="204.15" x2="796" y2="204.15" stroke="#000" stroke-width="1.9"/>
<line x1="787" y1="199.65" x2="787" y2="208.9" stroke="#000" stroke-width="1.8"/>
<line x1="783.75" y1="199.65" x2="790.25" y2="199.65" stroke="#000" stroke-width="1.8"/>
<line x1="783.75" y1="208.9" x2="790.25" y2="208.9" stroke="#000" stroke-width="1.8"/>
<circle cx="785.8" cy="197.63" r="4.15" fill="none" stroke="#98989f" stroke-width="3"/>
<circle cx="780" cy="204.15" r="4.15" fill="none" stroke="#98989f" stroke-width="3"/>
<circle cx="791" cy="211.39" r="4.15" fill="none" stroke="#98989f" stroke-width="3"/>
<line x1="828" y1="123.62" x2="849.4" y2="123.62" stroke="#000" stroke-width="1.9"/>
<line x1="838.6" y1="105.83" x2="838.6" y2="140.46" stroke="#000" stroke-width="2.7"/>
<line x1="833.4" y1="105.83" x2="843.8" y2="105.83" stroke="#000" stroke-width="2.7"/>
<line x1="833.4" y1="140.46" x2="843.8" y2="140.46" stroke="#000" stroke-width="2.7"/>
<path d="M829.1 109.22L837.7 109.22L833.4 101.02Z" fill="#000"/>
<path d="M839.4 111.95L848 111.95L843.7 103.75Z" fill="#000"/>
<path d="M834.2 161.76L842.8 161.76L838.5 153.56Z" fill="#000"/>
<line x1="765" y1="46.65" x2="765" y2="256.15" stroke="#000" stroke-width="1.9"/>
<line x1="758.55" y1="47.6" x2="765" y2="47.6" stroke="#000" stroke-width="1.9"/>
<text transform="translate(757 53.69) scale(0.926 1)" font-size="17.3" font-weight="bold" text-anchor="end">150</text>
<line x1="758.55" y1="106.9" x2="765" y2="106.9" stroke="#000" stroke-width="1.9"/>
<text transform="translate(757 112.99) scale(0.926 1)" font-size="17.3" font-weight="bold" text-anchor="end">100</text>
<line x1="758.55" y1="166.2" x2="765" y2="166.2" stroke="#000" stroke-width="1.9"/>
<text transform="translate(757 172.29) scale(0.926 1)" font-size="17.3" font-weight="bold" text-anchor="end">50</text>
<line x1="758.55" y1="225.5" x2="765" y2="225.5" stroke="#000" stroke-width="1.9"/>
<text transform="translate(757 231.59) scale(0.926 1)" font-size="17.3" font-weight="bold" text-anchor="end">0</text>
<line x1="764.05" y1="255.2" x2="861.4" y2="255.2" stroke="#000" stroke-width="1.9"/>
<line x1="785.8" y1="255.2" x2="785.8" y2="261.2" stroke="#000" stroke-width="1.9"/>
<text transform="translate(790.8 275.1) rotate(-45) scale(0.930 1)" font-size="16.5" font-weight="bold" text-anchor="end">10 <tspan font-family="'Liberation Serif', serif" font-weight="normal">&#956;</tspan>M dopamine</text>
<line x1="838.3" y1="255.2" x2="838.3" y2="261.2" stroke="#000" stroke-width="1.9"/>
<text transform="translate(843.3 275.1) rotate(-45) scale(0.930 1)" font-size="16.5" font-weight="bold" text-anchor="end">10 <tspan font-family="'Liberation Serif', serif" font-weight="normal">&#956;</tspan>M dopamine</text>
<text transform="translate(699.8 151) rotate(-90) scale(1.020 1)" font-size="17" font-weight="bold" text-anchor="middle">h<tspan font-family="'Liberation Serif', serif" font-weight="normal" font-size="114%">&#946;</tspan>-arrestin-1 translocation</text>
<text transform="translate(720.5 151) rotate(-90) scale(1.020 1)" font-size="17" font-weight="bold" text-anchor="middle">(<tspan font-family="'Liberation Serif', serif" font-weight="normal">&#916;</tspan>BRET.sec)</text>
<text transform="translate(687 15.2) scale(0.935 1)" font-size="20.3" font-weight="bold" text-anchor="start">C</text>
<text transform="translate(813.9 16.5)" font-size="20.4" font-weight="bold" text-anchor="middle">D<tspan dy="4.28" font-size="14.69">2</tspan><tspan dy="-4.28">&#8203;</tspan>R</text>
<circle cx="879.5" cy="142" r="4.15" fill="none" stroke="#98989f" stroke-width="3"/>
<path d="M875.2 174.6L883.8 174.6L879.5 166.4Z" fill="#000"/>
<text transform="translate(903.3 146.4) scale(1.020 1)" font-size="16.6" font-weight="normal" text-anchor="start">D<tspan dy="3.49" font-size="11.95">2</tspan><tspan dy="-3.49">&#8203;</tspan>R</text>
<text transform="translate(903.3 174.2) scale(1.020 1)" font-size="16.6" font-weight="normal" text-anchor="start">D<tspan dy="3.49" font-size="11.95">2</tspan><tspan dy="-3.49">&#8203;</tspan>R + GRK2</text>
<line x1="118.5" y1="449.3" x2="118.5" y2="659.3" stroke="#000" stroke-width="1.9" stroke-dasharray="1.9 4.28" stroke-dashoffset="0"/>
<line x1="89.8" y1="617.4" x2="310.6" y2="617.4" stroke="#000" stroke-width="1.9" stroke-dasharray="1.9 4.28" stroke-dashoffset="0"/>
<line x1="90.8" y1="591.59" x2="90.8" y2="595.11" stroke="#98989f" stroke-width="2"/>
<line x1="86.9" y1="591.59" x2="94.7" y2="591.59" stroke="#98989f" stroke-width="2"/>
<line x1="86.9" y1="595.11" x2="94.7" y2="595.11" stroke="#98989f" stroke-width="2"/>
<line x1="93.6" y1="603.99" x2="93.6" y2="610.7" stroke="#98989f" stroke-width="2"/>
<line x1="89.7" y1="603.99" x2="97.5" y2="603.99" stroke="#98989f" stroke-width="2"/>
<line x1="89.7" y1="610.7" x2="97.5" y2="610.7" stroke="#98989f" stroke-width="2"/>
<line x1="98" y1="609.86" x2="98" y2="616.56" stroke="#98989f" stroke-width="2"/>
<line x1="94.1" y1="609.86" x2="101.9" y2="609.86" stroke="#98989f" stroke-width="2"/>
<line x1="94.1" y1="616.56" x2="101.9" y2="616.56" stroke="#98989f" stroke-width="2"/>
<line x1="103" y1="615.72" x2="103" y2="622.43" stroke="#98989f" stroke-width="2"/>
<line x1="99.1" y1="615.72" x2="106.9" y2="615.72" stroke="#98989f" stroke-width="2"/>
<line x1="99.1" y1="622.43" x2="106.9" y2="622.43" stroke="#98989f" stroke-width="2"/>
<line x1="107.5" y1="620.75" x2="107.5" y2="627.46" stroke="#98989f" stroke-width="2"/>
<line x1="103.6" y1="620.75" x2="111.4" y2="620.75" stroke="#98989f" stroke-width="2"/>
<line x1="103.6" y1="627.46" x2="111.4" y2="627.46" stroke="#98989f" stroke-width="2"/>
<line x1="112" y1="622.43" x2="112" y2="629.97" stroke="#98989f" stroke-width="2"/>
<line x1="108.1" y1="622.43" x2="115.9" y2="622.43" stroke="#98989f" stroke-width="2"/>
<line x1="108.1" y1="629.97" x2="115.9" y2="629.97" stroke="#98989f" stroke-width="2"/>
<line x1="116.4" y1="624.1" x2="116.4" y2="637.6" stroke="#98989f" stroke-width="2"/>
<line x1="112.5" y1="624.1" x2="120.3" y2="624.1" stroke="#98989f" stroke-width="2"/>
<line x1="112.5" y1="637.6" x2="120.3" y2="637.6" stroke="#98989f" stroke-width="2"/>
<line x1="121.5" y1="612.46" x2="121.5" y2="620.75" stroke="#98989f" stroke-width="2"/>
<line x1="117.6" y1="612.46" x2="125.4" y2="612.46" stroke="#98989f" stroke-width="2"/>
<line x1="117.6" y1="620.75" x2="125.4" y2="620.75" stroke="#98989f" stroke-width="2"/>
<line x1="126.15" y1="607.68" x2="126.15" y2="627.62" stroke="#98989f" stroke-width="2"/>
<line x1="122.25" y1="607.68" x2="130.05" y2="607.68" stroke="#98989f" stroke-width="2"/>
<line x1="122.25" y1="627.62" x2="130.05" y2="627.62" stroke="#98989f" stroke-width="2"/>
<line x1="130.8" y1="609.86" x2="130.8" y2="618.24" stroke="#98989f" stroke-width="2"/>
<line x1="126.9" y1="609.86" x2="134.7" y2="609.86" stroke="#98989f" stroke-width="2"/>
<line x1="126.9" y1="618.24" x2="134.7" y2="618.24" stroke="#98989f" stroke-width="2"/>
<line x1="135.45" y1="609.02" x2="135.45" y2="617.4" stroke="#98989f" stroke-width="2"/>
<line x1="131.55" y1="609.02" x2="139.35" y2="609.02" stroke="#98989f" stroke-width="2"/>
<line x1="131.55" y1="617.4" x2="139.35" y2="617.4" stroke="#98989f" stroke-width="2"/>
<line x1="140.1" y1="601.1" x2="140.1" y2="617.47" stroke="#98989f" stroke-width="2"/>
<line x1="136.2" y1="601.1" x2="144" y2="601.1" stroke="#98989f" stroke-width="2"/>
<line x1="136.2" y1="617.47" x2="144" y2="617.47" stroke="#98989f" stroke-width="2"/>
<line x1="144.75" y1="601.65" x2="144.75" y2="615.22" stroke="#98989f" stroke-width="2"/>
<line x1="140.85" y1="601.65" x2="148.65" y2="601.65" stroke="#98989f" stroke-width="2"/>
<line x1="140.85" y1="615.22" x2="148.65" y2="615.22" stroke="#98989f" stroke-width="2"/>
<line x1="149.4" y1="596.45" x2="149.4" y2="607.68" stroke="#98989f" stroke-width="2"/>
<line x1="145.5" y1="596.45" x2="153.3" y2="596.45" stroke="#98989f" stroke-width="2"/>
<line x1="145.5" y1="607.68" x2="153.3" y2="607.68" stroke="#98989f" stroke-width="2"/>
<line x1="154.05" y1="592.86" x2="154.05" y2="609.8" stroke="#98989f" stroke-width="2"/>
<line x1="150.15" y1="592.86" x2="157.95" y2="592.86" stroke="#98989f" stroke-width="2"/>
<line x1="150.15" y1="609.8" x2="157.95" y2="609.8" stroke="#98989f" stroke-width="2"/>
<line x1="158.7" y1="588.41" x2="158.7" y2="600.64" stroke="#98989f" stroke-width="2"/>
<line x1="154.8" y1="588.41" x2="162.6" y2="588.41" stroke="#98989f" stroke-width="2"/>
<line x1="154.8" y1="600.64" x2="162.6" y2="600.64" stroke="#98989f" stroke-width="2"/>
<line x1="163.35" y1="591.61" x2="163.35" y2="611.24" stroke="#98989f" stroke-width="2"/>
<line x1="159.45" y1="591.61" x2="167.25" y2="591.61" stroke="#98989f" stroke-width="2"/>
<line x1="159.45" y1="611.24" x2="167.25" y2="611.24" stroke="#98989f" stroke-width="2"/>
<line x1="168" y1="579.51" x2="168" y2="603.49" stroke="#98989f" stroke-width="2"/>
<line x1="164.1" y1="579.51" x2="171.9" y2="579.51" stroke="#98989f" stroke-width="2"/>
<line x1="164.1" y1="603.49" x2="171.9" y2="603.49" stroke="#98989f" stroke-width="2"/>
<line x1="172.65" y1="580.11" x2="172.65" y2="597.29" stroke="#98989f" stroke-width="2"/>
<line x1="168.75" y1="580.11" x2="176.55" y2="580.11" stroke="#98989f" stroke-width="2"/>
<line x1="168.75" y1="597.29" x2="176.55" y2="597.29" stroke="#98989f" stroke-width="2"/>
<line x1="177.3" y1="581.88" x2="177.3" y2="599.55" stroke="#98989f" stroke-width="2"/>
<line x1="173.4" y1="581.88" x2="181.2" y2="581.88" stroke="#98989f" stroke-width="2"/>
<line x1="173.4" y1="599.55" x2="181.2" y2="599.55" stroke="#98989f" stroke-width="2"/>
<line x1="181.95" y1="582.9" x2="181.95" y2="601.17" stroke="#98989f" stroke-width="2"/>
<line x1="178.05" y1="582.9" x2="185.85" y2="582.9" stroke="#98989f" stroke-width="2"/>
<line x1="178.05" y1="601.17" x2="185.85" y2="601.17" stroke="#98989f" stroke-width="2"/>
<line x1="186.6" y1="586.61" x2="186.6" y2="603.02" stroke="#98989f" stroke-width="2"/>
<line x1="182.7" y1="586.61" x2="190.5" y2="586.61" stroke="#98989f" stroke-width="2"/>
<line x1="182.7" y1="603.02" x2="190.5" y2="603.02" stroke="#98989f" stroke-width="2"/>
<line x1="191.25" y1="580.93" x2="191.25" y2="606.28" stroke="#98989f" stroke-width="2"/>
<line x1="187.35" y1="580.93" x2="195.15" y2="580.93" stroke="#98989f" stroke-width="2"/>
<line x1="187.35" y1="606.28" x2="195.15" y2="606.28" stroke="#98989f" stroke-width="2"/>
<line x1="195.9" y1="574.7" x2="195.9" y2="598.74" stroke="#98989f" stroke-width="2"/>
<line x1="192" y1="574.7" x2="199.8" y2="574.7" stroke="#98989f" stroke-width="2"/>
<line x1="192" y1="598.74" x2="199.8" y2="598.74" stroke="#98989f" stroke-width="2"/>
<line x1="200.55" y1="577.69" x2="200.55" y2="595.05" stroke="#98989f" stroke-width="2"/>
<line x1="196.65" y1="577.69" x2="204.45" y2="577.69" stroke="#98989f" stroke-width="2"/>
<line x1="196.65" y1="595.05" x2="204.45" y2="595.05" stroke="#98989f" stroke-width="2"/>
<line x1="205.2" y1="571.31" x2="205.2" y2="592.26" stroke="#98989f" stroke-width="2"/>
<line x1="201.3" y1="571.31" x2="209.1" y2="571.31" stroke="#98989f" stroke-width="2"/>
<line x1="201.3" y1="592.26" x2="209.1" y2="592.26" stroke="#98989f" stroke-width="2"/>
<line x1="209.85" y1="573.82" x2="209.85" y2="612.29" stroke="#98989f" stroke-width="2"/>
<line x1="205.95" y1="573.82" x2="213.75" y2="573.82" stroke="#98989f" stroke-width="2"/>
<line x1="205.95" y1="612.29" x2="213.75" y2="612.29" stroke="#98989f" stroke-width="2"/>
<line x1="214.5" y1="578.72" x2="214.5" y2="600.8" stroke="#98989f" stroke-width="2"/>
<line x1="210.6" y1="578.72" x2="218.4" y2="578.72" stroke="#98989f" stroke-width="2"/>
<line x1="210.6" y1="600.8" x2="218.4" y2="600.8" stroke="#98989f" stroke-width="2"/>
<line x1="219.15" y1="575.5" x2="219.15" y2="603.32" stroke="#98989f" stroke-width="2"/>
<line x1="215.25" y1="575.5" x2="223.05" y2="575.5" stroke="#98989f" stroke-width="2"/>
<line x1="215.25" y1="603.32" x2="223.05" y2="603.32" stroke="#98989f" stroke-width="2"/>
<line x1="223.8" y1="572.46" x2="223.8" y2="597.02" stroke="#98989f" stroke-width="2"/>
<line x1="219.9" y1="572.46" x2="227.7" y2="572.46" stroke="#98989f" stroke-width="2"/>
<line x1="219.9" y1="597.02" x2="227.7" y2="597.02" stroke="#98989f" stroke-width="2"/>
<line x1="228.45" y1="574.82" x2="228.45" y2="591.02" stroke="#98989f" stroke-width="2"/>
<line x1="224.55" y1="574.82" x2="232.35" y2="574.82" stroke="#98989f" stroke-width="2"/>
<line x1="224.55" y1="591.02" x2="232.35" y2="591.02" stroke="#98989f" stroke-width="2"/>
<line x1="233.1" y1="572.15" x2="233.1" y2="593.94" stroke="#98989f" stroke-width="2"/>
<line x1="229.2" y1="572.15" x2="237" y2="572.15" stroke="#98989f" stroke-width="2"/>
<line x1="229.2" y1="593.94" x2="237" y2="593.94" stroke="#98989f" stroke-width="2"/>
<line x1="237.75" y1="563.6" x2="237.75" y2="592.26" stroke="#98989f" stroke-width="2"/>
<line x1="233.85" y1="563.6" x2="241.65" y2="563.6" stroke="#98989f" stroke-width="2"/>
<line x1="233.85" y1="592.26" x2="241.65" y2="592.26" stroke="#98989f" stroke-width="2"/>
<line x1="242.4" y1="560.08" x2="242.4" y2="588.91" stroke="#98989f" stroke-width="2"/>
<line x1="238.5" y1="560.08" x2="246.3" y2="560.08" stroke="#98989f" stroke-width="2"/>
<line x1="238.5" y1="588.91" x2="246.3" y2="588.91" stroke="#98989f" stroke-width="2"/>
<line x1="247.05" y1="583.88" x2="247.05" y2="611.12" stroke="#98989f" stroke-width="2"/>
<line x1="243.15" y1="583.88" x2="250.95" y2="583.88" stroke="#98989f" stroke-width="2"/>
<line x1="243.15" y1="611.12" x2="250.95" y2="611.12" stroke="#98989f" stroke-width="2"/>
<line x1="251.7" y1="573.19" x2="251.7" y2="595.76" stroke="#98989f" stroke-width="2"/>
<line x1="247.8" y1="573.19" x2="255.6" y2="573.19" stroke="#98989f" stroke-width="2"/>
<line x1="247.8" y1="595.76" x2="255.6" y2="595.76" stroke="#98989f" stroke-width="2"/>
<line x1="256.35" y1="564.61" x2="256.35" y2="592.26" stroke="#98989f" stroke-width="2"/>
<line x1="252.45" y1="564.61" x2="260.25" y2="564.61" stroke="#98989f" stroke-width="2"/>
<line x1="252.45" y1="592.26" x2="260.25" y2="592.26" stroke="#98989f" stroke-width="2"/>
<line x1="261" y1="558.07" x2="261" y2="587.23" stroke="#98989f" stroke-width="2"/>
<line x1="257.1" y1="558.07" x2="264.9" y2="558.07" stroke="#98989f" stroke-width="2"/>
<line x1="257.1" y1="587.23" x2="264.9" y2="587.23" stroke="#98989f" stroke-width="2"/>
<line x1="265.65" y1="567.12" x2="265.65" y2="592.26" stroke="#98989f" stroke-width="2"/>
<line x1="261.75" y1="567.12" x2="269.55" y2="567.12" stroke="#98989f" stroke-width="2"/>
<line x1="261.75" y1="592.26" x2="269.55" y2="592.26" stroke="#98989f" stroke-width="2"/>
<line x1="270.3" y1="563.94" x2="270.3" y2="590.58" stroke="#98989f" stroke-width="2"/>
<line x1="266.4" y1="563.94" x2="274.2" y2="563.94" stroke="#98989f" stroke-width="2"/>
<line x1="266.4" y1="590.58" x2="274.2" y2="590.58" stroke="#98989f" stroke-width="2"/>
<line x1="274.95" y1="562.09" x2="274.95" y2="588.91" stroke="#98989f" stroke-width="2"/>
<line x1="271.05" y1="562.09" x2="278.85" y2="562.09" stroke="#98989f" stroke-width="2"/>
<line x1="271.05" y1="588.91" x2="278.85" y2="588.91" stroke="#98989f" stroke-width="2"/>
<line x1="279.6" y1="560.58" x2="279.6" y2="607.6" stroke="#98989f" stroke-width="2"/>
<line x1="275.7" y1="560.58" x2="283.5" y2="560.58" stroke="#98989f" stroke-width="2"/>
<line x1="275.7" y1="607.6" x2="283.5" y2="607.6" stroke="#98989f" stroke-width="2"/>
<line x1="284.25" y1="566.28" x2="284.25" y2="592.26" stroke="#98989f" stroke-width="2"/>
<line x1="280.35" y1="566.28" x2="288.15" y2="566.28" stroke="#98989f" stroke-width="2"/>
<line x1="280.35" y1="592.26" x2="288.15" y2="592.26" stroke="#98989f" stroke-width="2"/>
<line x1="288.9" y1="567.12" x2="288.9" y2="593.94" stroke="#98989f" stroke-width="2"/>
<line x1="285" y1="567.12" x2="292.8" y2="567.12" stroke="#98989f" stroke-width="2"/>
<line x1="285" y1="593.94" x2="292.8" y2="593.94" stroke="#98989f" stroke-width="2"/>
<line x1="293.55" y1="559.08" x2="293.55" y2="588.07" stroke="#98989f" stroke-width="2"/>
<line x1="289.65" y1="559.08" x2="297.45" y2="559.08" stroke="#98989f" stroke-width="2"/>
<line x1="289.65" y1="588.07" x2="297.45" y2="588.07" stroke="#98989f" stroke-width="2"/>
<line x1="298.2" y1="575.5" x2="298.2" y2="606.09" stroke="#98989f" stroke-width="2"/>
<line x1="294.3" y1="575.5" x2="302.1" y2="575.5" stroke="#98989f" stroke-width="2"/>
<line x1="294.3" y1="606.09" x2="302.1" y2="606.09" stroke="#98989f" stroke-width="2"/>
<line x1="302.85" y1="556.14" x2="302.85" y2="583.88" stroke="#98989f" stroke-width="2"/>
<line x1="298.95" y1="556.14" x2="306.75" y2="556.14" stroke="#98989f" stroke-width="2"/>
<line x1="298.95" y1="583.88" x2="306.75" y2="583.88" stroke="#98989f" stroke-width="2"/>
<line x1="307.5" y1="575.67" x2="307.5" y2="592.86" stroke="#98989f" stroke-width="2"/>
<line x1="303.6" y1="575.67" x2="311.4" y2="575.67" stroke="#98989f" stroke-width="2"/>
<line x1="303.6" y1="592.86" x2="311.4" y2="592.86" stroke="#98989f" stroke-width="2"/>
<line x1="312.15" y1="579.61" x2="312.15" y2="592.6" stroke="#98989f" stroke-width="2"/>
<line x1="308.25" y1="579.61" x2="316.05" y2="579.61" stroke="#98989f" stroke-width="2"/>
<line x1="308.25" y1="592.6" x2="316.05" y2="592.6" stroke="#98989f" stroke-width="2"/>
<polyline points="90.8,593.35 93.6,607.34 98,613.21 103,619.08 107.5,624.1 112,626.2 116.4,630.85 121.5,616.6 126.15,617.65 130.8,614.05 135.45,613.21 140.1,609.28 144.75,608.43 149.4,602.06 154.05,601.33 158.7,594.52 163.35,601.42 168,591.5 172.65,588.7 177.3,590.72 181.95,592.03 186.6,594.81 191.25,593.6 195.9,586.72 200.55,586.37 205.2,581.78 209.85,593.06 214.5,589.76 219.15,589.41 223.8,584.74 228.45,582.92 233.1,583.04 237.75,577.93 242.4,574.49 247.05,597.5 251.7,584.47 256.35,578.43 261,572.65 265.65,579.69 270.3,577.26 274.95,575.5 279.6,584.09 284.25,579.27 288.9,580.53 293.55,573.57 298.2,590.79 302.85,570.01 307.5,584.27 312.15,586.1" fill="none" stroke="#98989f" stroke-width="2.2" stroke-linejoin="miter" stroke-miterlimit="6"/>
<line x1="92.5" y1="616.81" x2="92.5" y2="631.9" stroke="#000" stroke-width="2"/>
<line x1="88.6" y1="616.81" x2="96.4" y2="616.81" stroke="#000" stroke-width="2"/>
<line x1="88.6" y1="631.9" x2="96.4" y2="631.9" stroke="#000" stroke-width="2"/>
<line x1="101.8" y1="606.25" x2="101.8" y2="623.6" stroke="#000" stroke-width="2"/>
<line x1="97.9" y1="606.25" x2="105.7" y2="606.25" stroke="#000" stroke-width="2"/>
<line x1="97.9" y1="623.6" x2="105.7" y2="623.6" stroke="#000" stroke-width="2"/>
<line x1="111" y1="608.43" x2="111" y2="619.66" stroke="#000" stroke-width="2"/>
<line x1="107.1" y1="608.43" x2="114.9" y2="608.43" stroke="#000" stroke-width="2"/>
<line x1="107.1" y1="619.66" x2="114.9" y2="619.66" stroke="#000" stroke-width="2"/>
<line x1="119.6" y1="615.05" x2="119.6" y2="624.44" stroke="#000" stroke-width="2"/>
<line x1="115.7" y1="615.05" x2="123.5" y2="615.05" stroke="#000" stroke-width="2"/>
<line x1="115.7" y1="624.44" x2="123.5" y2="624.44" stroke="#000" stroke-width="2"/>
<line x1="118.7" y1="593.1" x2="118.7" y2="602.9" stroke="#000" stroke-width="2"/>
<line x1="114.8" y1="593.1" x2="122.6" y2="593.1" stroke="#000" stroke-width="2"/>
<line x1="114.8" y1="602.9" x2="122.6" y2="602.9" stroke="#000" stroke-width="2"/>
<line x1="123.35" y1="592.26" x2="123.35" y2="598.96" stroke="#000" stroke-width="2"/>
<line x1="119.45" y1="592.26" x2="127.25" y2="592.26" stroke="#000" stroke-width="2"/>
<line x1="119.45" y1="598.96" x2="127.25" y2="598.96" stroke="#000" stroke-width="2"/>
<line x1="128" y1="590.92" x2="128" y2="598.13" stroke="#000" stroke-width="2"/>
<line x1="124.1" y1="590.92" x2="131.9" y2="590.92" stroke="#000" stroke-width="2"/>
<line x1="124.1" y1="598.13" x2="131.9" y2="598.13" stroke="#000" stroke-width="2"/>
<line x1="132.65" y1="593.94" x2="132.65" y2="602.32" stroke="#000" stroke-width="2"/>
<line x1="128.75" y1="593.94" x2="136.55" y2="593.94" stroke="#000" stroke-width="2"/>
<line x1="128.75" y1="602.32" x2="136.55" y2="602.32" stroke="#000" stroke-width="2"/>
<line x1="137.3" y1="591.09" x2="137.3" y2="611.62" stroke="#000" stroke-width="2"/>
<line x1="133.4" y1="591.09" x2="141.2" y2="591.09" stroke="#000" stroke-width="2"/>
<line x1="133.4" y1="611.62" x2="141.2" y2="611.62" stroke="#000" stroke-width="2"/>
<line x1="141.95" y1="565.11" x2="141.95" y2="591.09" stroke="#000" stroke-width="2"/>
<line x1="138.05" y1="565.11" x2="145.85" y2="565.11" stroke="#000" stroke-width="2"/>
<line x1="138.05" y1="591.09" x2="145.85" y2="591.09" stroke="#000" stroke-width="2"/>
<line x1="146.6" y1="579.69" x2="146.6" y2="592.26" stroke="#000" stroke-width="2"/>
<line x1="142.7" y1="579.69" x2="150.5" y2="579.69" stroke="#000" stroke-width="2"/>
<line x1="142.7" y1="592.26" x2="150.5" y2="592.26" stroke="#000" stroke-width="2"/>
<line x1="151.25" y1="578.1" x2="151.25" y2="592.09" stroke="#000" stroke-width="2"/>
<line x1="147.35" y1="578.1" x2="155.15" y2="578.1" stroke="#000" stroke-width="2"/>
<line x1="147.35" y1="592.09" x2="155.15" y2="592.09" stroke="#000" stroke-width="2"/>
<line x1="155.9" y1="598.13" x2="155.9" y2="612.12" stroke="#000" stroke-width="2"/>
<line x1="152" y1="598.13" x2="159.8" y2="598.13" stroke="#000" stroke-width="2"/>
<line x1="152" y1="612.12" x2="159.8" y2="612.12" stroke="#000" stroke-width="2"/>
<line x1="160.55" y1="587.23" x2="160.55" y2="598.96" stroke="#000" stroke-width="2"/>
<line x1="156.65" y1="587.23" x2="164.45" y2="587.23" stroke="#000" stroke-width="2"/>
<line x1="156.65" y1="598.96" x2="164.45" y2="598.96" stroke="#000" stroke-width="2"/>
<line x1="165.2" y1="583.88" x2="165.2" y2="597.29" stroke="#000" stroke-width="2"/>
<line x1="161.3" y1="583.88" x2="169.1" y2="583.88" stroke="#000" stroke-width="2"/>
<line x1="161.3" y1="597.29" x2="169.1" y2="597.29" stroke="#000" stroke-width="2"/>
<line x1="169.85" y1="579.61" x2="169.85" y2="620.92" stroke="#000" stroke-width="2"/>
<line x1="165.95" y1="579.61" x2="173.75" y2="579.61" stroke="#000" stroke-width="2"/>
<line x1="165.95" y1="620.92" x2="173.75" y2="620.92" stroke="#000" stroke-width="2"/>
<line x1="174.5" y1="579.61" x2="174.5" y2="623.1" stroke="#000" stroke-width="2"/>
<line x1="170.6" y1="579.61" x2="178.4" y2="579.61" stroke="#000" stroke-width="2"/>
<line x1="170.6" y1="623.1" x2="178.4" y2="623.1" stroke="#000" stroke-width="2"/>
<line x1="179.15" y1="574.08" x2="179.15" y2="602.32" stroke="#000" stroke-width="2"/>
<line x1="175.25" y1="574.08" x2="183.05" y2="574.08" stroke="#000" stroke-width="2"/>
<line x1="175.25" y1="602.32" x2="183.05" y2="602.32" stroke="#000" stroke-width="2"/>
<line x1="183.8" y1="574.08" x2="183.8" y2="619.91" stroke="#000" stroke-width="2"/>
<line x1="179.9" y1="574.08" x2="187.7" y2="574.08" stroke="#000" stroke-width="2"/>
<line x1="179.9" y1="619.91" x2="187.7" y2="619.91" stroke="#000" stroke-width="2"/>
<line x1="188.45" y1="564.94" x2="188.45" y2="593.94" stroke="#000" stroke-width="2"/>
<line x1="184.55" y1="564.94" x2="192.35" y2="564.94" stroke="#000" stroke-width="2"/>
<line x1="184.55" y1="593.94" x2="192.35" y2="593.94" stroke="#000" stroke-width="2"/>
<line x1="193.1" y1="576.34" x2="193.1" y2="608.27" stroke="#000" stroke-width="2"/>
<line x1="189.2" y1="576.34" x2="197" y2="576.34" stroke="#000" stroke-width="2"/>
<line x1="189.2" y1="608.27" x2="197" y2="608.27" stroke="#000" stroke-width="2"/>
<line x1="197.75" y1="560.08" x2="197.75" y2="600.64" stroke="#000" stroke-width="2"/>
<line x1="193.85" y1="560.08" x2="201.65" y2="560.08" stroke="#000" stroke-width="2"/>
<line x1="193.85" y1="600.64" x2="201.65" y2="600.64" stroke="#000" stroke-width="2"/>
<line x1="202.4" y1="583.88" x2="202.4" y2="612.87" stroke="#000" stroke-width="2"/>
<line x1="198.5" y1="583.88" x2="206.3" y2="583.88" stroke="#000" stroke-width="2"/>
<line x1="198.5" y1="612.87" x2="206.3" y2="612.87" stroke="#000" stroke-width="2"/>
<line x1="207.05" y1="580.61" x2="207.05" y2="603.57" stroke="#000" stroke-width="2"/>
<line x1="203.15" y1="580.61" x2="210.95" y2="580.61" stroke="#000" stroke-width="2"/>
<line x1="203.15" y1="603.57" x2="210.95" y2="603.57" stroke="#000" stroke-width="2"/>
<line x1="211.7" y1="580.61" x2="211.7" y2="608.43" stroke="#000" stroke-width="2"/>
<line x1="207.8" y1="580.61" x2="215.6" y2="580.61" stroke="#000" stroke-width="2"/>
<line x1="207.8" y1="608.43" x2="215.6" y2="608.43" stroke="#000" stroke-width="2"/>
<line x1="216.35" y1="580.11" x2="216.35" y2="597.29" stroke="#000" stroke-width="2"/>
<line x1="212.45" y1="580.11" x2="220.25" y2="580.11" stroke="#000" stroke-width="2"/>
<line x1="212.45" y1="597.29" x2="220.25" y2="597.29" stroke="#000" stroke-width="2"/>
<line x1="221" y1="583.88" x2="221" y2="597.12" stroke="#000" stroke-width="2"/>
<line x1="217.1" y1="583.88" x2="224.9" y2="583.88" stroke="#000" stroke-width="2"/>
<line x1="217.1" y1="597.12" x2="224.9" y2="597.12" stroke="#000" stroke-width="2"/>
<line x1="225.65" y1="555.64" x2="225.65" y2="588.07" stroke="#000" stroke-width="2"/>
<line x1="221.75" y1="555.64" x2="229.55" y2="555.64" stroke="#000" stroke-width="2"/>
<line x1="221.75" y1="588.07" x2="229.55" y2="588.07" stroke="#000" stroke-width="2"/>
<line x1="230.3" y1="587.23" x2="230.3" y2="603.91" stroke="#000" stroke-width="2"/>
<line x1="226.4" y1="587.23" x2="234.2" y2="587.23" stroke="#000" stroke-width="2"/>
<line x1="226.4" y1="603.91" x2="234.2" y2="603.91" stroke="#000" stroke-width="2"/>
<line x1="234.95" y1="580.61" x2="234.95" y2="604.58" stroke="#000" stroke-width="2"/>
<line x1="231.05" y1="580.61" x2="238.85" y2="580.61" stroke="#000" stroke-width="2"/>
<line x1="231.05" y1="604.58" x2="238.85" y2="604.58" stroke="#000" stroke-width="2"/>
<line x1="239.6" y1="578.01" x2="239.6" y2="592.26" stroke="#000" stroke-width="2"/>
<line x1="235.7" y1="578.01" x2="243.5" y2="578.01" stroke="#000" stroke-width="2"/>
<line x1="235.7" y1="592.26" x2="243.5" y2="592.26" stroke="#000" stroke-width="2"/>
<line x1="244.25" y1="569.63" x2="244.25" y2="605.33" stroke="#000" stroke-width="2"/>
<line x1="240.35" y1="569.63" x2="248.15" y2="569.63" stroke="#000" stroke-width="2"/>
<line x1="240.35" y1="605.33" x2="248.15" y2="605.33" stroke="#000" stroke-width="2"/>
<line x1="248.9" y1="567.12" x2="248.9" y2="587.23" stroke="#000" stroke-width="2"/>
<line x1="245" y1="567.12" x2="252.8" y2="567.12" stroke="#000" stroke-width="2"/>
<line x1="245" y1="587.23" x2="252.8" y2="587.23" stroke="#000" stroke-width="2"/>
<line x1="253.55" y1="587.23" x2="253.55" y2="595.61" stroke="#000" stroke-width="2"/>
<line x1="249.65" y1="587.23" x2="257.45" y2="587.23" stroke="#000" stroke-width="2"/>
<line x1="249.65" y1="595.61" x2="257.45" y2="595.61" stroke="#000" stroke-width="2"/>
<line x1="258.2" y1="588.91" x2="258.2" y2="614.3" stroke="#000" stroke-width="2"/>
<line x1="254.3" y1="588.91" x2="262.1" y2="588.91" stroke="#000" stroke-width="2"/>
<line x1="254.3" y1="614.3" x2="262.1" y2="614.3" stroke="#000" stroke-width="2"/>
<line x1="262.85" y1="570.64" x2="262.85" y2="596.45" stroke="#000" stroke-width="2"/>
<line x1="258.95" y1="570.64" x2="266.75" y2="570.64" stroke="#000" stroke-width="2"/>
<line x1="258.95" y1="596.45" x2="266.75" y2="596.45" stroke="#000" stroke-width="2"/>
<line x1="267.5" y1="578.1" x2="267.5" y2="599.89" stroke="#000" stroke-width="2"/>
<line x1="263.6" y1="578.1" x2="271.4" y2="578.1" stroke="#000" stroke-width="2"/>
<line x1="263.6" y1="599.89" x2="271.4" y2="599.89" stroke="#000" stroke-width="2"/>
<line x1="272.15" y1="592.26" x2="272.15" y2="594.77" stroke="#000" stroke-width="2"/>
<line x1="268.25" y1="592.26" x2="276.05" y2="592.26" stroke="#000" stroke-width="2"/>
<line x1="268.25" y1="594.77" x2="276.05" y2="594.77" stroke="#000" stroke-width="2"/>
<line x1="276.8" y1="577.09" x2="276.8" y2="588.07" stroke="#000" stroke-width="2"/>
<line x1="272.9" y1="577.09" x2="280.7" y2="577.09" stroke="#000" stroke-width="2"/>
<line x1="272.9" y1="588.07" x2="280.7" y2="588.07" stroke="#000" stroke-width="2"/>
<line x1="281.45" y1="573.07" x2="281.45" y2="621.34" stroke="#000" stroke-width="2"/>
<line x1="277.55" y1="573.07" x2="285.35" y2="573.07" stroke="#000" stroke-width="2"/>
<line x1="277.55" y1="621.34" x2="285.35" y2="621.34" stroke="#000" stroke-width="2"/>
<line x1="286.1" y1="573.07" x2="286.1" y2="613.88" stroke="#000" stroke-width="2"/>
<line x1="282.2" y1="573.07" x2="290" y2="573.07" stroke="#000" stroke-width="2"/>
<line x1="282.2" y1="613.88" x2="290" y2="613.88" stroke="#000" stroke-width="2"/>
<line x1="290.75" y1="598.96" x2="290.75" y2="611.28" stroke="#000" stroke-width="2"/>
<line x1="286.85" y1="598.96" x2="294.65" y2="598.96" stroke="#000" stroke-width="2"/>
<line x1="286.85" y1="611.28" x2="294.65" y2="611.28" stroke="#000" stroke-width="2"/>
<line x1="295.4" y1="583.88" x2="295.4" y2="600.64" stroke="#000" stroke-width="2"/>
<line x1="291.5" y1="583.88" x2="299.3" y2="583.88" stroke="#000" stroke-width="2"/>
<line x1="291.5" y1="600.64" x2="299.3" y2="600.64" stroke="#000" stroke-width="2"/>
<line x1="300.05" y1="554.13" x2="300.05" y2="625.11" stroke="#000" stroke-width="2"/>
<line x1="296.15" y1="554.13" x2="303.95" y2="554.13" stroke="#000" stroke-width="2"/>
<line x1="296.15" y1="625.11" x2="303.95" y2="625.11" stroke="#000" stroke-width="2"/>
<line x1="304.7" y1="595.61" x2="304.7" y2="614.63" stroke="#000" stroke-width="2"/>
<line x1="300.8" y1="595.61" x2="308.6" y2="595.61" stroke="#000" stroke-width="2"/>
<line x1="300.8" y1="614.63" x2="308.6" y2="614.63" stroke="#000" stroke-width="2"/>
<line x1="309.35" y1="559.08" x2="309.35" y2="621.09" stroke="#000" stroke-width="2"/>
<line x1="305.45" y1="559.08" x2="313.25" y2="559.08" stroke="#000" stroke-width="2"/>
<line x1="305.45" y1="621.09" x2="313.25" y2="621.09" stroke="#000" stroke-width="2"/>
<polyline points="92.5,624.36 101.8,614.93 111,614.05 119.6,619.75 118.7,598 123.35,595.61 128,594.52 132.65,598.13 137.3,601.35 141.95,578.1 146.6,585.98 151.25,585.1 155.9,605.12 160.55,593.1 165.2,590.58 169.85,600.26 174.5,601.35 179.15,588.2 183.8,596.99 188.45,579.44 193.1,592.3 197.75,580.36 202.4,598.38 207.05,592.09 211.7,594.52 216.35,588.7 221,590.5 225.65,571.85 230.3,595.57 234.95,592.6 239.6,585.14 244.25,587.48 248.9,577.18 253.55,591.42 258.2,601.6 262.85,583.54 267.5,588.99 272.15,593.52 276.8,582.58 281.45,597.2 286.1,593.48 290.75,605.12 295.4,592.26 300.05,589.62 304.7,605.12 309.35,590.08" fill="none" stroke="#000" stroke-width="2.2" stroke-linejoin="miter" stroke-miterlimit="6"/>
<line x1="86.8" y1="448.85" x2="86.8" y2="660.25" stroke="#000" stroke-width="1.9"/>
<line x1="80.35" y1="449.8" x2="86.8" y2="449.8" stroke="#000" stroke-width="1.9"/>
<text transform="translate(78.8 455.89) scale(0.926 1)" font-size="17.3" font-weight="bold" text-anchor="end">0.20</text>
<line x1="80.35" y1="491.7" x2="86.8" y2="491.7" stroke="#000" stroke-width="1.9"/>
<text transform="translate(78.8 497.79) scale(0.926 1)" font-size="17.3" font-weight="bold" text-anchor="end">0.15</text>
<line x1="80.35" y1="533.6" x2="86.8" y2="533.6" stroke="#000" stroke-width="1.9"/>
<text transform="translate(78.8 539.69) scale(0.926 1)" font-size="17.3" font-weight="bold" text-anchor="end">0.10</text>
<line x1="80.35" y1="575.5" x2="86.8" y2="575.5" stroke="#000" stroke-width="1.9"/>
<text transform="translate(78.8 581.59) scale(0.926 1)" font-size="17.3" font-weight="bold" text-anchor="end">0.05</text>
<line x1="80.35" y1="617.4" x2="86.8" y2="617.4" stroke="#000" stroke-width="1.9"/>
<text transform="translate(78.8 623.49) scale(0.926 1)" font-size="17.3" font-weight="bold" text-anchor="end">0.00</text>
<line x1="80.35" y1="659.3" x2="86.8" y2="659.3" stroke="#000" stroke-width="1.9"/>
<text transform="translate(78.8 665.39) scale(0.926 1)" font-size="17.3" font-weight="bold" text-anchor="end">-0.05</text>
<line x1="85.85" y1="659.3" x2="313.6" y2="659.3" stroke="#000" stroke-width="1.9"/>
<line x1="118.5" y1="659.3" x2="118.5" y2="666.25" stroke="#000" stroke-width="1.9"/>
<text transform="translate(118.5 684.2) scale(0.926 1)" font-size="17.3" font-weight="bold" text-anchor="middle">0</text>
<line x1="183.23" y1="659.3" x2="183.23" y2="666.25" stroke="#000" stroke-width="1.9"/>
<text transform="translate(183.23 684.2) scale(0.926 1)" font-size="17.3" font-weight="bold" text-anchor="middle">500</text>
<line x1="247.97" y1="659.3" x2="247.97" y2="666.25" stroke="#000" stroke-width="1.9"/>
<text transform="translate(247.97 684.2) scale(0.926 1)" font-size="17.3" font-weight="bold" text-anchor="middle">1000</text>
<line x1="312.7" y1="659.3" x2="312.7" y2="666.25" stroke="#000" stroke-width="1.9"/>
<text transform="translate(312.7 684.2) scale(0.926 1)" font-size="17.3" font-weight="bold" text-anchor="middle">1500</text>
<text transform="translate(201.2 708.2) scale(1.020 1)" font-size="17" font-weight="bold" text-anchor="middle">Time (sec)</text>
<text transform="translate(15.2 554.55) rotate(-90) scale(1.020 1)" font-size="17" font-weight="bold" text-anchor="middle"><tspan font-family="'Liberation Serif', serif" font-weight="normal">&#916;</tspan>BRET ratio (535/475)</text>
<text transform="translate(35.2 554.55) rotate(-90) scale(1.020 1)" font-size="17" font-weight="bold" text-anchor="middle">(agonist - vehicle)</text>
<text transform="translate(6.8 419) scale(0.935 1)" font-size="20.3" font-weight="bold" text-anchor="start">D</text>
<text transform="translate(200.2 419)" font-size="20.4" font-weight="bold" text-anchor="middle">CB<tspan dy="4.28" font-size="14.69">1</tspan><tspan dy="-4.28">&#8203;</tspan>, 31.6 <tspan font-family="'Liberation Serif', serif" font-weight="normal">&#956;</tspan>M 2-AG</text>
<line x1="136.5" y1="455.9" x2="158.4" y2="455.9" stroke="#98989f" stroke-width="2.2"/>
<line x1="136.5" y1="487.6" x2="158.4" y2="487.6" stroke="#000" stroke-width="2.2"/>
<text transform="translate(171.8 460) scale(1.020 1)" font-size="16.6" font-weight="normal" text-anchor="start">CB<tspan dy="3.49" font-size="11.95">1</tspan><tspan dy="-3.49">&#8203;</tspan></text>
<text transform="translate(171.8 491.6) scale(1.020 1)" font-size="16.6" font-weight="normal" text-anchor="start">CB<tspan dy="3.49" font-size="11.95">1</tspan><tspan dy="-3.49">&#8203;</tspan> + GRK2</text>
<line x1="440" y1="630.1" x2="653" y2="630.1" stroke="#000" stroke-width="1.9" stroke-dasharray="1.9 4.28" stroke-dashoffset="0"/>
<circle cx="458" cy="598.43" r="4.2" fill="#000"/>
<circle cx="451.2" cy="609.23" r="4.2" fill="#000"/>
<circle cx="463.8" cy="620.02" r="4.2" fill="#000"/>
<line x1="445.8" y1="609.23" x2="469.2" y2="609.23" stroke="#000" stroke-width="1.85"/>
<line x1="457.5" y1="601.99" x2="457.5" y2="616.46" stroke="#000" stroke-width="2.7"/>
<line x1="451.8" y1="601.99" x2="463.2" y2="601.99" stroke="#000" stroke-width="2.7"/>
<line x1="451.8" y1="616.46" x2="463.2" y2="616.46" stroke="#000" stroke-width="2.7"/>
<circle cx="487.4" cy="561.31" r="4.2" fill="#000"/>
<circle cx="499.5" cy="562.5" r="4.2" fill="#000"/>
<circle cx="493.2" cy="581.47" r="4.2" fill="#000"/>
<line x1="481.2" y1="568.43" x2="504.6" y2="568.43" stroke="#000" stroke-width="1.85"/>
<line x1="492.9" y1="563.09" x2="492.9" y2="575.07" stroke="#000" stroke-width="2.7"/>
<line x1="487.2" y1="563.09" x2="498.6" y2="563.09" stroke="#000" stroke-width="2.7"/>
<line x1="487.2" y1="575.07" x2="498.6" y2="575.07" stroke="#000" stroke-width="2.7"/>
<circle cx="521.8" cy="616.94" r="4.2" fill="#000"/>
<circle cx="528.4" cy="616.94" r="4.2" fill="#000"/>
<circle cx="534.9" cy="620.73" r="4.2" fill="#000"/>
<line x1="516.4" y1="618.12" x2="539.8" y2="618.12" stroke="#000" stroke-width="1.85"/>
<line x1="528.1" y1="616.82" x2="528.1" y2="619.43" stroke="#000" stroke-width="2.7"/>
<line x1="522.4" y1="616.82" x2="533.8" y2="616.82" stroke="#000" stroke-width="2.7"/>
<line x1="522.4" y1="619.43" x2="533.8" y2="619.43" stroke="#000" stroke-width="2.7"/>
<circle cx="557.3" cy="626.07" r="4.2" fill="#000"/>
<circle cx="564.1" cy="626.07" r="4.2" fill="#000"/>
<circle cx="570.5" cy="633.18" r="4.2" fill="#000"/>
<line x1="551.9" y1="627.97" x2="575.3" y2="627.97" stroke="#000" stroke-width="1.85"/>
<line x1="563.6" y1="625.59" x2="563.6" y2="630.34" stroke="#000" stroke-width="2.7"/>
<line x1="557.9" y1="625.59" x2="569.3" y2="625.59" stroke="#000" stroke-width="2.7"/>
<line x1="557.9" y1="630.34" x2="569.3" y2="630.34" stroke="#000" stroke-width="2.7"/>
<circle cx="592.7" cy="606.14" r="4.2" fill="#000"/>
<circle cx="599.2" cy="612.07" r="4.2" fill="#000"/>
<circle cx="605.9" cy="613.97" r="4.2" fill="#000"/>
<line x1="587.3" y1="610.89" x2="610.7" y2="610.89" stroke="#000" stroke-width="1.85"/>
<line x1="599" y1="608.51" x2="599" y2="613.26" stroke="#000" stroke-width="2.7"/>
<line x1="593.3" y1="608.51" x2="604.7" y2="608.51" stroke="#000" stroke-width="2.7"/>
<line x1="593.3" y1="613.26" x2="604.7" y2="613.26" stroke="#000" stroke-width="2.7"/>
<circle cx="634.6" cy="563.09" r="4.2" fill="#000"/>
<circle cx="628.7" cy="595.59" r="4.2" fill="#000"/>
<circle cx="640.7" cy="601.99" r="4.2" fill="#000"/>
<line x1="622.7" y1="587.17" x2="646.1" y2="587.17" stroke="#000" stroke-width="1.85"/>
<line x1="634.4" y1="574.83" x2="634.4" y2="599.62" stroke="#000" stroke-width="2.7"/>
<line x1="628.7" y1="574.83" x2="640.1" y2="574.83" stroke="#000" stroke-width="2.7"/>
<line x1="628.7" y1="599.62" x2="640.1" y2="599.62" stroke="#000" stroke-width="2.7"/>
<line x1="435" y1="451.25" x2="435" y2="660.65" stroke="#000" stroke-width="1.9"/>
<line x1="428.55" y1="452.2" x2="435" y2="452.2" stroke="#000" stroke-width="1.9"/>
<text transform="translate(427 458.29) scale(0.926 1)" font-size="17.3" font-weight="bold" text-anchor="end">150</text>
<line x1="428.55" y1="511.5" x2="435" y2="511.5" stroke="#000" stroke-width="1.9"/>
<text transform="translate(427 517.59) scale(0.926 1)" font-size="17.3" font-weight="bold" text-anchor="end">100</text>
<line x1="428.55" y1="570.8" x2="435" y2="570.8" stroke="#000" stroke-width="1.9"/>
<text transform="translate(427 576.89) scale(0.926 1)" font-size="17.3" font-weight="bold" text-anchor="end">50</text>
<line x1="428.55" y1="630.1" x2="435" y2="630.1" stroke="#000" stroke-width="1.9"/>
<text transform="translate(427 636.19) scale(0.926 1)" font-size="17.3" font-weight="bold" text-anchor="end">0</text>
<line x1="434.05" y1="659.7" x2="659.2" y2="659.7" stroke="#000" stroke-width="1.9"/>
<line x1="457.5" y1="659.7" x2="457.5" y2="665.7" stroke="#000" stroke-width="1.9"/>
<text transform="translate(462.5 679.6) rotate(-45) scale(0.930 1)" font-size="16.5" font-weight="bold" text-anchor="end">1 <tspan font-family="'Liberation Serif', serif" font-weight="normal">&#956;</tspan>M CP55,940</text>
<line x1="492.9" y1="659.7" x2="492.9" y2="665.7" stroke="#000" stroke-width="1.9"/>
<text transform="translate(497.9 679.6) rotate(-45) scale(0.930 1)" font-size="16.5" font-weight="bold" text-anchor="end">31.6 <tspan font-family="'Liberation Serif', serif" font-weight="normal">&#956;</tspan>M 2-AG</text>
<line x1="528.1" y1="659.7" x2="528.1" y2="665.7" stroke="#000" stroke-width="1.9"/>
<text transform="translate(533.1 679.6) rotate(-45) scale(0.930 1)" font-size="16.5" font-weight="bold" text-anchor="end">10 <tspan font-family="'Liberation Serif', serif" font-weight="normal">&#956;</tspan>M AEA</text>
<line x1="563.6" y1="659.7" x2="563.6" y2="665.7" stroke="#000" stroke-width="1.9"/>
<text transform="translate(568.6 679.6) rotate(-45) scale(0.930 1)" font-size="16.5" font-weight="bold" text-anchor="end">10 <tspan font-family="'Liberation Serif', serif" font-weight="normal">&#956;</tspan>M BAY59-3074</text>
<line x1="599" y1="659.7" x2="599" y2="665.7" stroke="#000" stroke-width="1.9"/>
<text transform="translate(604 679.6) rotate(-45) scale(0.930 1)" font-size="16.5" font-weight="bold" text-anchor="end">10 <tspan font-family="'Liberation Serif', serif" font-weight="normal">&#956;</tspan>M THC</text>
<line x1="634.4" y1="659.7" x2="634.4" y2="665.7" stroke="#000" stroke-width="1.9"/>
<text transform="translate(639.4 679.6) rotate(-45) scale(0.930 1)" font-size="16.5" font-weight="bold" text-anchor="end">10 <tspan font-family="'Liberation Serif', serif" font-weight="normal">&#956;</tspan>M WIN55,212-2</text>
<text transform="translate(368.7 555.95) rotate(-90) scale(1.020 1)" font-size="17" font-weight="bold" text-anchor="middle">h<tspan font-family="'Liberation Serif', serif" font-weight="normal" font-size="114%">&#946;</tspan>-arrestin-1 translocation</text>
<text transform="translate(391 555.95) rotate(-90) scale(1.020 1)" font-size="17" font-weight="bold" text-anchor="middle">(<tspan font-family="'Liberation Serif', serif" font-weight="normal">&#916;</tspan>BRET.sec)</text>
<text transform="translate(338.5 418.5) scale(0.935 1)" font-size="20.3" font-weight="bold" text-anchor="start">E</text>
<text transform="translate(545.9 420.5)" font-size="20.4" font-weight="bold" text-anchor="middle">CB<tspan dy="4.28" font-size="14.69">1</tspan><tspan dy="-4.28">&#8203;</tspan></text>
<line x1="767.7" y1="630.1" x2="863.3" y2="630.1" stroke="#000" stroke-width="1.9" stroke-dasharray="1.9 4.28" stroke-dashoffset="0"/>
<circle cx="782.3" cy="591.67" r="4.2" fill="#000"/>
<circle cx="791.7" cy="598.43" r="4.2" fill="#000"/>
<circle cx="801.1" cy="601.4" r="4.2" fill="#000"/>
<line x1="777.2" y1="597.25" x2="806.2" y2="597.25" stroke="#000" stroke-width="1.85"/>
<line x1="791.7" y1="593.93" x2="791.7" y2="600.33" stroke="#000" stroke-width="2.7"/>
<line x1="784.6" y1="593.93" x2="798.8" y2="593.93" stroke="#000" stroke-width="2.7"/>
<line x1="784.6" y1="600.33" x2="798.8" y2="600.33" stroke="#000" stroke-width="2.7"/>
<circle cx="835.1" cy="538.66" r="4.2" fill="#000"/>
<circle cx="835.1" cy="573.41" r="4.2" fill="#000"/>
<circle cx="835.1" cy="591.2" r="4.2" fill="#000"/>
<line x1="820.6" y1="567.48" x2="849.6" y2="567.48" stroke="#000" stroke-width="1.85"/>
<line x1="835.1" y1="552.42" x2="835.1" y2="582.9" stroke="#000" stroke-width="2.7"/>
<line x1="828" y1="552.42" x2="842.2" y2="552.42" stroke="#000" stroke-width="2.7"/>
<line x1="828" y1="582.9" x2="842.2" y2="582.9" stroke="#000" stroke-width="2.7"/>
<line x1="762.7" y1="451.25" x2="762.7" y2="660.65" stroke="#000" stroke-width="1.9"/>
<line x1="756.25" y1="452.2" x2="762.7" y2="452.2" stroke="#000" stroke-width="1.9"/>
<text transform="translate(754.7 458.29) scale(0.926 1)" font-size="17.3" font-weight="bold" text-anchor="end">150</text>
<line x1="756.25" y1="511.5" x2="762.7" y2="511.5" stroke="#000" stroke-width="1.9"/>
<text transform="translate(754.7 517.59) scale(0.926 1)" font-size="17.3" font-weight="bold" text-anchor="end">100</text>
<line x1="756.25" y1="570.8" x2="762.7" y2="570.8" stroke="#000" stroke-width="1.9"/>
<text transform="translate(754.7 576.89) scale(0.926 1)" font-size="17.3" font-weight="bold" text-anchor="end">50</text>
<line x1="756.25" y1="630.1" x2="762.7" y2="630.1" stroke="#000" stroke-width="1.9"/>
<text transform="translate(754.7 636.19) scale(0.926 1)" font-size="17.3" font-weight="bold" text-anchor="end">0</text>
<line x1="761.75" y1="659.7" x2="864.8" y2="659.7" stroke="#000" stroke-width="1.9"/>
<line x1="791.7" y1="659.7" x2="791.7" y2="665.7" stroke="#000" stroke-width="1.9"/>
<text transform="translate(796.7 679.6) rotate(-45) scale(0.930 1)" font-size="16.5" font-weight="bold" text-anchor="end">1 <tspan font-family="'Liberation Serif', serif" font-weight="normal">&#956;</tspan>M CP55,940</text>
<line x1="835.1" y1="659.7" x2="835.1" y2="665.7" stroke="#000" stroke-width="1.9"/>
<text transform="translate(840.1 679.6) rotate(-45) scale(0.930 1)" font-size="16.5" font-weight="bold" text-anchor="end">31.6 <tspan font-family="'Liberation Serif', serif" font-weight="normal">&#956;</tspan>M 2-AG</text>
<text transform="translate(697.3 555.95) rotate(-90) scale(1.020 1)" font-size="17" font-weight="bold" text-anchor="middle">h<tspan font-family="'Liberation Serif', serif" font-weight="normal" font-size="114%">&#946;</tspan>-arrestin-1 translocation</text>
<text transform="translate(719.4 555.95) rotate(-90) scale(1.020 1)" font-size="17" font-weight="bold" text-anchor="middle">(<tspan font-family="'Liberation Serif', serif" font-weight="normal">&#916;</tspan>BRET.sec)</text>
<text transform="translate(688 418.5) scale(0.935 1)" font-size="20.3" font-weight="bold" text-anchor="start">F</text>
<text transform="translate(813.4 420.5)" font-size="20.4" font-weight="bold" text-anchor="middle">CB<tspan dy="4.28" font-size="14.69">1</tspan><tspan dy="-4.28">&#8203;</tspan> + GRK2</text>
<line x1="118.5" y1="842.9" x2="118.5" y2="1052.2" stroke="#000" stroke-width="1.9" stroke-dasharray="1.9 4.28" stroke-dashoffset="0"/>
<line x1="89.8" y1="1010.44" x2="310.6" y2="1010.44" stroke="#000" stroke-width="1.9" stroke-dasharray="1.9 4.28" stroke-dashoffset="0"/>
<line x1="91.5" y1="1007.1" x2="91.5" y2="1013.78" stroke="#98989f" stroke-width="2"/>
<line x1="87.6" y1="1007.1" x2="95.4" y2="1007.1" stroke="#98989f" stroke-width="2"/>
<line x1="87.6" y1="1013.78" x2="95.4" y2="1013.78" stroke="#98989f" stroke-width="2"/>
<line x1="95.75" y1="1007.93" x2="95.75" y2="1014.62" stroke="#98989f" stroke-width="2"/>
<line x1="91.85" y1="1007.93" x2="99.65" y2="1007.93" stroke="#98989f" stroke-width="2"/>
<line x1="91.85" y1="1014.62" x2="99.65" y2="1014.62" stroke="#98989f" stroke-width="2"/>
<line x1="100" y1="1008.77" x2="100" y2="1014.62" stroke="#98989f" stroke-width="2"/>
<line x1="96.1" y1="1008.77" x2="103.9" y2="1008.77" stroke="#98989f" stroke-width="2"/>
<line x1="96.1" y1="1014.62" x2="103.9" y2="1014.62" stroke="#98989f" stroke-width="2"/>
<line x1="104.25" y1="1007.93" x2="104.25" y2="1014.62" stroke="#98989f" stroke-width="2"/>
<line x1="100.35" y1="1007.93" x2="108.15" y2="1007.93" stroke="#98989f" stroke-width="2"/>
<line x1="100.35" y1="1014.62" x2="108.15" y2="1014.62" stroke="#98989f" stroke-width="2"/>
<line x1="108.5" y1="1007.93" x2="108.5" y2="1013.78" stroke="#98989f" stroke-width="2"/>
<line x1="104.6" y1="1007.93" x2="112.4" y2="1007.93" stroke="#98989f" stroke-width="2"/>
<line x1="104.6" y1="1013.78" x2="112.4" y2="1013.78" stroke="#98989f" stroke-width="2"/>
<line x1="112.75" y1="1008.77" x2="112.75" y2="1014.62" stroke="#98989f" stroke-width="2"/>
<line x1="108.85" y1="1008.77" x2="116.65" y2="1008.77" stroke="#98989f" stroke-width="2"/>
<line x1="108.85" y1="1014.62" x2="116.65" y2="1014.62" stroke="#98989f" stroke-width="2"/>
<line x1="117" y1="1009.6" x2="117" y2="1015.45" stroke="#98989f" stroke-width="2"/>
<line x1="113.1" y1="1009.6" x2="120.9" y2="1009.6" stroke="#98989f" stroke-width="2"/>
<line x1="113.1" y1="1015.45" x2="120.9" y2="1015.45" stroke="#98989f" stroke-width="2"/>
<line x1="120.8" y1="1011.86" x2="120.8" y2="1016.29" stroke="#98989f" stroke-width="2"/>
<line x1="116.9" y1="1011.86" x2="124.7" y2="1011.86" stroke="#98989f" stroke-width="2"/>
<line x1="116.9" y1="1016.29" x2="124.7" y2="1016.29" stroke="#98989f" stroke-width="2"/>
<line x1="125.1" y1="1011.86" x2="125.1" y2="1016.29" stroke="#98989f" stroke-width="2"/>
<line x1="121.2" y1="1011.86" x2="129" y2="1011.86" stroke="#98989f" stroke-width="2"/>
<line x1="121.2" y1="1016.29" x2="129" y2="1016.29" stroke="#98989f" stroke-width="2"/>
<line x1="129.4" y1="1011.86" x2="129.4" y2="1016.29" stroke="#98989f" stroke-width="2"/>
<line x1="125.5" y1="1011.86" x2="133.3" y2="1011.86" stroke="#98989f" stroke-width="2"/>
<line x1="125.5" y1="1016.29" x2="133.3" y2="1016.29" stroke="#98989f" stroke-width="2"/>
<line x1="133.7" y1="1011.69" x2="133.7" y2="1016.29" stroke="#98989f" stroke-width="2"/>
<line x1="129.8" y1="1011.69" x2="137.6" y2="1011.69" stroke="#98989f" stroke-width="2"/>
<line x1="129.8" y1="1016.29" x2="137.6" y2="1016.29" stroke="#98989f" stroke-width="2"/>
<line x1="138" y1="1011.28" x2="138" y2="1016.29" stroke="#98989f" stroke-width="2"/>
<line x1="134.1" y1="1011.28" x2="141.9" y2="1011.28" stroke="#98989f" stroke-width="2"/>
<line x1="134.1" y1="1016.29" x2="141.9" y2="1016.29" stroke="#98989f" stroke-width="2"/>
<line x1="142.3" y1="1009.6" x2="142.3" y2="1015.45" stroke="#98989f" stroke-width="2"/>
<line x1="138.4" y1="1009.6" x2="146.2" y2="1009.6" stroke="#98989f" stroke-width="2"/>
<line x1="138.4" y1="1015.45" x2="146.2" y2="1015.45" stroke="#98989f" stroke-width="2"/>
<line x1="146.6" y1="1007.1" x2="146.6" y2="1013.78" stroke="#98989f" stroke-width="2"/>
<line x1="142.7" y1="1007.1" x2="150.5" y2="1007.1" stroke="#98989f" stroke-width="2"/>
<line x1="142.7" y1="1013.78" x2="150.5" y2="1013.78" stroke="#98989f" stroke-width="2"/>
<line x1="150.9" y1="1003.76" x2="150.9" y2="1012.11" stroke="#98989f" stroke-width="2"/>
<line x1="147" y1="1003.76" x2="154.8" y2="1003.76" stroke="#98989f" stroke-width="2"/>
<line x1="147" y1="1012.11" x2="154.8" y2="1012.11" stroke="#98989f" stroke-width="2"/>
<line x1="155.2" y1="998.75" x2="155.2" y2="1010.44" stroke="#98989f" stroke-width="2"/>
<line x1="151.3" y1="998.75" x2="159.1" y2="998.75" stroke="#98989f" stroke-width="2"/>
<line x1="151.3" y1="1010.44" x2="159.1" y2="1010.44" stroke="#98989f" stroke-width="2"/>
<line x1="159.5" y1="992.07" x2="159.5" y2="1007.93" stroke="#98989f" stroke-width="2"/>
<line x1="155.6" y1="992.07" x2="163.4" y2="992.07" stroke="#98989f" stroke-width="2"/>
<line x1="155.6" y1="1007.93" x2="163.4" y2="1007.93" stroke="#98989f" stroke-width="2"/>
<line x1="163.8" y1="981.54" x2="163.8" y2="1005.43" stroke="#98989f" stroke-width="2"/>
<line x1="159.9" y1="981.54" x2="167.7" y2="981.54" stroke="#98989f" stroke-width="2"/>
<line x1="159.9" y1="1005.43" x2="167.7" y2="1005.43" stroke="#98989f" stroke-width="2"/>
<line x1="168.1" y1="985.38" x2="168.1" y2="1003.76" stroke="#98989f" stroke-width="2"/>
<line x1="164.2" y1="985.38" x2="172" y2="985.38" stroke="#98989f" stroke-width="2"/>
<line x1="164.2" y1="1003.76" x2="172" y2="1003.76" stroke="#98989f" stroke-width="2"/>
<line x1="172.4" y1="976.86" x2="172.4" y2="1002.09" stroke="#98989f" stroke-width="2"/>
<line x1="168.5" y1="976.86" x2="176.3" y2="976.86" stroke="#98989f" stroke-width="2"/>
<line x1="168.5" y1="1002.09" x2="176.3" y2="1002.09" stroke="#98989f" stroke-width="2"/>
<line x1="176.7" y1="982.04" x2="176.7" y2="1003.76" stroke="#98989f" stroke-width="2"/>
<line x1="172.8" y1="982.04" x2="180.6" y2="982.04" stroke="#98989f" stroke-width="2"/>
<line x1="172.8" y1="1003.76" x2="180.6" y2="1003.76" stroke="#98989f" stroke-width="2"/>
<line x1="181" y1="973.69" x2="181" y2="1000.42" stroke="#98989f" stroke-width="2"/>
<line x1="177.1" y1="973.69" x2="184.9" y2="973.69" stroke="#98989f" stroke-width="2"/>
<line x1="177.1" y1="1000.42" x2="184.9" y2="1000.42" stroke="#98989f" stroke-width="2"/>
<line x1="185.3" y1="982.04" x2="185.3" y2="1005.43" stroke="#98989f" stroke-width="2"/>
<line x1="181.4" y1="982.04" x2="189.2" y2="982.04" stroke="#98989f" stroke-width="2"/>
<line x1="181.4" y1="1005.43" x2="189.2" y2="1005.43" stroke="#98989f" stroke-width="2"/>
<line x1="189.6" y1="979.96" x2="189.6" y2="1003.76" stroke="#98989f" stroke-width="2"/>
<line x1="185.7" y1="979.96" x2="193.5" y2="979.96" stroke="#98989f" stroke-width="2"/>
<line x1="185.7" y1="1003.76" x2="193.5" y2="1003.76" stroke="#98989f" stroke-width="2"/>
<line x1="193.9" y1="985.38" x2="193.9" y2="1007.1" stroke="#98989f" stroke-width="2"/>
<line x1="190" y1="985.38" x2="197.8" y2="985.38" stroke="#98989f" stroke-width="2"/>
<line x1="190" y1="1007.1" x2="197.8" y2="1007.1" stroke="#98989f" stroke-width="2"/>
<line x1="198.2" y1="982.04" x2="198.2" y2="1008.77" stroke="#98989f" stroke-width="2"/>
<line x1="194.3" y1="982.04" x2="202.1" y2="982.04" stroke="#98989f" stroke-width="2"/>
<line x1="194.3" y1="1008.77" x2="202.1" y2="1008.77" stroke="#98989f" stroke-width="2"/>
<line x1="202.5" y1="977.03" x2="202.5" y2="1013.86" stroke="#98989f" stroke-width="2"/>
<line x1="198.6" y1="977.03" x2="206.4" y2="977.03" stroke="#98989f" stroke-width="2"/>
<line x1="198.6" y1="1013.86" x2="206.4" y2="1013.86" stroke="#98989f" stroke-width="2"/>
<line x1="206.8" y1="974.44" x2="206.8" y2="1000.42" stroke="#98989f" stroke-width="2"/>
<line x1="202.9" y1="974.44" x2="210.7" y2="974.44" stroke="#98989f" stroke-width="2"/>
<line x1="202.9" y1="1000.42" x2="210.7" y2="1000.42" stroke="#98989f" stroke-width="2"/>
<line x1="211.1" y1="981.21" x2="211.1" y2="1005.43" stroke="#98989f" stroke-width="2"/>
<line x1="207.2" y1="981.21" x2="215" y2="981.21" stroke="#98989f" stroke-width="2"/>
<line x1="207.2" y1="1005.43" x2="215" y2="1005.43" stroke="#98989f" stroke-width="2"/>
<line x1="215.4" y1="985.38" x2="215.4" y2="1015.7" stroke="#98989f" stroke-width="2"/>
<line x1="211.5" y1="985.38" x2="219.3" y2="985.38" stroke="#98989f" stroke-width="2"/>
<line x1="211.5" y1="1015.7" x2="219.3" y2="1015.7" stroke="#98989f" stroke-width="2"/>
<line x1="219.7" y1="968.6" x2="219.7" y2="995.41" stroke="#98989f" stroke-width="2"/>
<line x1="215.8" y1="968.6" x2="223.6" y2="968.6" stroke="#98989f" stroke-width="2"/>
<line x1="215.8" y1="995.41" x2="223.6" y2="995.41" stroke="#98989f" stroke-width="2"/>
<line x1="224" y1="978.03" x2="224" y2="1002.09" stroke="#98989f" stroke-width="2"/>
<line x1="220.1" y1="978.03" x2="227.9" y2="978.03" stroke="#98989f" stroke-width="2"/>
<line x1="220.1" y1="1002.09" x2="227.9" y2="1002.09" stroke="#98989f" stroke-width="2"/>
<line x1="228.3" y1="985.38" x2="228.3" y2="1007.1" stroke="#98989f" stroke-width="2"/>
<line x1="224.4" y1="985.38" x2="232.2" y2="985.38" stroke="#98989f" stroke-width="2"/>
<line x1="224.4" y1="1007.1" x2="232.2" y2="1007.1" stroke="#98989f" stroke-width="2"/>
<line x1="232.6" y1="987.05" x2="232.6" y2="1008.77" stroke="#98989f" stroke-width="2"/>
<line x1="228.7" y1="987.05" x2="236.5" y2="987.05" stroke="#98989f" stroke-width="2"/>
<line x1="228.7" y1="1008.77" x2="236.5" y2="1008.77" stroke="#98989f" stroke-width="2"/>
<line x1="236.9" y1="988.72" x2="236.9" y2="1017.12" stroke="#98989f" stroke-width="2"/>
<line x1="233" y1="988.72" x2="240.8" y2="988.72" stroke="#98989f" stroke-width="2"/>
<line x1="233" y1="1017.12" x2="240.8" y2="1017.12" stroke="#98989f" stroke-width="2"/>
<line x1="241.2" y1="980.37" x2="241.2" y2="1005.43" stroke="#98989f" stroke-width="2"/>
<line x1="237.3" y1="980.37" x2="245.1" y2="980.37" stroke="#98989f" stroke-width="2"/>
<line x1="237.3" y1="1005.43" x2="245.1" y2="1005.43" stroke="#98989f" stroke-width="2"/>
<line x1="245.5" y1="1002.92" x2="245.5" y2="1022.63" stroke="#98989f" stroke-width="2"/>
<line x1="241.6" y1="1002.92" x2="249.4" y2="1002.92" stroke="#98989f" stroke-width="2"/>
<line x1="241.6" y1="1022.63" x2="249.4" y2="1022.63" stroke="#98989f" stroke-width="2"/>
<line x1="249.8" y1="993.74" x2="249.8" y2="1013.78" stroke="#98989f" stroke-width="2"/>
<line x1="245.9" y1="993.74" x2="253.7" y2="993.74" stroke="#98989f" stroke-width="2"/>
<line x1="245.9" y1="1013.78" x2="253.7" y2="1013.78" stroke="#98989f" stroke-width="2"/>
<line x1="254.1" y1="985.38" x2="254.1" y2="1005.43" stroke="#98989f" stroke-width="2"/>
<line x1="250.2" y1="985.38" x2="258" y2="985.38" stroke="#98989f" stroke-width="2"/>
<line x1="250.2" y1="1005.43" x2="258" y2="1005.43" stroke="#98989f" stroke-width="2"/>
<line x1="258.4" y1="978.03" x2="258.4" y2="1000.42" stroke="#98989f" stroke-width="2"/>
<line x1="254.5" y1="978.03" x2="262.3" y2="978.03" stroke="#98989f" stroke-width="2"/>
<line x1="254.5" y1="1000.42" x2="262.3" y2="1000.42" stroke="#98989f" stroke-width="2"/>
<line x1="262.7" y1="985.38" x2="262.7" y2="1006.26" stroke="#98989f" stroke-width="2"/>
<line x1="258.8" y1="985.38" x2="266.6" y2="985.38" stroke="#98989f" stroke-width="2"/>
<line x1="258.8" y1="1006.26" x2="266.6" y2="1006.26" stroke="#98989f" stroke-width="2"/>
<line x1="267" y1="993.74" x2="267" y2="1018.46" stroke="#98989f" stroke-width="2"/>
<line x1="263.1" y1="993.74" x2="270.9" y2="993.74" stroke="#98989f" stroke-width="2"/>
<line x1="263.1" y1="1018.46" x2="270.9" y2="1018.46" stroke="#98989f" stroke-width="2"/>
<line x1="271.3" y1="962.25" x2="271.3" y2="1017.87" stroke="#98989f" stroke-width="2"/>
<line x1="267.4" y1="962.25" x2="275.2" y2="962.25" stroke="#98989f" stroke-width="2"/>
<line x1="267.4" y1="1017.87" x2="275.2" y2="1017.87" stroke="#98989f" stroke-width="2"/>
<line x1="275.6" y1="985.38" x2="275.6" y2="1005.43" stroke="#98989f" stroke-width="2"/>
<line x1="271.7" y1="985.38" x2="279.5" y2="985.38" stroke="#98989f" stroke-width="2"/>
<line x1="271.7" y1="1005.43" x2="279.5" y2="1005.43" stroke="#98989f" stroke-width="2"/>
<line x1="279.9" y1="983.71" x2="279.9" y2="1003.76" stroke="#98989f" stroke-width="2"/>
<line x1="276" y1="983.71" x2="283.8" y2="983.71" stroke="#98989f" stroke-width="2"/>
<line x1="276" y1="1003.76" x2="283.8" y2="1003.76" stroke="#98989f" stroke-width="2"/>
<line x1="284.2" y1="985.38" x2="284.2" y2="1007.1" stroke="#98989f" stroke-width="2"/>
<line x1="280.3" y1="985.38" x2="288.1" y2="985.38" stroke="#98989f" stroke-width="2"/>
<line x1="280.3" y1="1007.1" x2="288.1" y2="1007.1" stroke="#98989f" stroke-width="2"/>
<line x1="288.5" y1="982.04" x2="288.5" y2="1003.76" stroke="#98989f" stroke-width="2"/>
<line x1="284.6" y1="982.04" x2="292.4" y2="982.04" stroke="#98989f" stroke-width="2"/>
<line x1="284.6" y1="1003.76" x2="292.4" y2="1003.76" stroke="#98989f" stroke-width="2"/>
<line x1="292.8" y1="946.96" x2="292.8" y2="997.08" stroke="#98989f" stroke-width="2"/>
<line x1="288.9" y1="946.96" x2="296.7" y2="946.96" stroke="#98989f" stroke-width="2"/>
<line x1="288.9" y1="997.08" x2="296.7" y2="997.08" stroke="#98989f" stroke-width="2"/>
<line x1="297.1" y1="982.04" x2="297.1" y2="1002.09" stroke="#98989f" stroke-width="2"/>
<line x1="293.2" y1="982.04" x2="301" y2="982.04" stroke="#98989f" stroke-width="2"/>
<line x1="293.2" y1="1002.09" x2="301" y2="1002.09" stroke="#98989f" stroke-width="2"/>
<line x1="301.4" y1="980.37" x2="301.4" y2="997.08" stroke="#98989f" stroke-width="2"/>
<line x1="297.5" y1="980.37" x2="305.3" y2="980.37" stroke="#98989f" stroke-width="2"/>
<line x1="297.5" y1="997.08" x2="305.3" y2="997.08" stroke="#98989f" stroke-width="2"/>
<line x1="305.7" y1="974.28" x2="305.7" y2="989.89" stroke="#98989f" stroke-width="2"/>
<line x1="301.8" y1="974.28" x2="309.6" y2="974.28" stroke="#98989f" stroke-width="2"/>
<line x1="301.8" y1="989.89" x2="309.6" y2="989.89" stroke="#98989f" stroke-width="2"/>
<polyline points="91.5,1010.44 95.75,1011.28 100,1011.69 104.25,1011.28 108.5,1010.86 112.75,1011.69 117,1012.53 120.8,1014.07 125.1,1014.07 129.4,1014.07 133.7,1013.99 138,1013.78 142.3,1012.53 146.6,1010.44 150.9,1007.93 155.2,1004.59 159.5,1000 163.8,993.49 168.1,994.57 172.4,989.48 176.7,992.9 181,987.05 185.3,993.74 189.6,991.86 193.9,996.24 198.2,995.41 202.5,995.45 206.8,987.43 211.1,993.32 215.4,1000.54 219.7,982 224,990.06 228.3,996.24 232.6,997.91 236.9,1002.92 241.2,992.9 245.5,1012.78 249.8,1003.76 254.1,995.41 258.4,989.23 262.7,995.82 267,1006.1 271.3,990.06 275.6,995.41 279.9,993.74 284.2,996.24 288.5,992.9 292.8,972.02 297.1,992.07 301.4,988.72 305.7,982.08" fill="none" stroke="#98989f" stroke-width="2.2" stroke-linejoin="miter" stroke-miterlimit="6"/>
<line x1="88.85" y1="1005.18" x2="88.85" y2="1012.78" stroke="#000" stroke-width="2"/>
<line x1="84.95" y1="1005.18" x2="92.75" y2="1005.18" stroke="#000" stroke-width="2"/>
<line x1="84.95" y1="1012.78" x2="92.75" y2="1012.78" stroke="#000" stroke-width="2"/>
<line x1="93.1" y1="1005.18" x2="93.1" y2="1012.78" stroke="#000" stroke-width="2"/>
<line x1="89.2" y1="1005.18" x2="97" y2="1005.18" stroke="#000" stroke-width="2"/>
<line x1="89.2" y1="1012.78" x2="97" y2="1012.78" stroke="#000" stroke-width="2"/>
<line x1="97.35" y1="1005.43" x2="97.35" y2="1012.95" stroke="#000" stroke-width="2"/>
<line x1="93.45" y1="1005.43" x2="101.25" y2="1005.43" stroke="#000" stroke-width="2"/>
<line x1="93.45" y1="1012.95" x2="101.25" y2="1012.95" stroke="#000" stroke-width="2"/>
<line x1="101.6" y1="1006.26" x2="101.6" y2="1018.62" stroke="#000" stroke-width="2"/>
<line x1="97.7" y1="1006.26" x2="105.5" y2="1006.26" stroke="#000" stroke-width="2"/>
<line x1="97.7" y1="1018.62" x2="105.5" y2="1018.62" stroke="#000" stroke-width="2"/>
<line x1="105.85" y1="1005.43" x2="105.85" y2="1012.95" stroke="#000" stroke-width="2"/>
<line x1="101.95" y1="1005.43" x2="109.75" y2="1005.43" stroke="#000" stroke-width="2"/>
<line x1="101.95" y1="1012.95" x2="109.75" y2="1012.95" stroke="#000" stroke-width="2"/>
<line x1="110.1" y1="1005.43" x2="110.1" y2="1012.95" stroke="#000" stroke-width="2"/>
<line x1="106.2" y1="1005.43" x2="114" y2="1005.43" stroke="#000" stroke-width="2"/>
<line x1="106.2" y1="1012.95" x2="114" y2="1012.95" stroke="#000" stroke-width="2"/>
<line x1="114.35" y1="1005.43" x2="114.35" y2="1016.79" stroke="#000" stroke-width="2"/>
<line x1="110.45" y1="1005.43" x2="118.25" y2="1005.43" stroke="#000" stroke-width="2"/>
<line x1="110.45" y1="1016.79" x2="118.25" y2="1016.79" stroke="#000" stroke-width="2"/>
<line x1="118.6" y1="1004.59" x2="118.6" y2="1012.11" stroke="#000" stroke-width="2"/>
<line x1="114.7" y1="1004.59" x2="122.5" y2="1004.59" stroke="#000" stroke-width="2"/>
<line x1="114.7" y1="1012.11" x2="122.5" y2="1012.11" stroke="#000" stroke-width="2"/>
<line x1="119.5" y1="997.08" x2="119.5" y2="1003.76" stroke="#000" stroke-width="2"/>
<line x1="115.6" y1="997.08" x2="123.4" y2="997.08" stroke="#000" stroke-width="2"/>
<line x1="115.6" y1="1003.76" x2="123.4" y2="1003.76" stroke="#000" stroke-width="2"/>
<line x1="123.75" y1="997.08" x2="123.75" y2="1002.92" stroke="#000" stroke-width="2"/>
<line x1="119.85" y1="997.08" x2="127.65" y2="997.08" stroke="#000" stroke-width="2"/>
<line x1="119.85" y1="1002.92" x2="127.65" y2="1002.92" stroke="#000" stroke-width="2"/>
<line x1="128" y1="995.74" x2="128" y2="1002.42" stroke="#000" stroke-width="2"/>
<line x1="124.1" y1="995.74" x2="131.9" y2="995.74" stroke="#000" stroke-width="2"/>
<line x1="124.1" y1="1002.42" x2="131.9" y2="1002.42" stroke="#000" stroke-width="2"/>
<line x1="132.25" y1="994.32" x2="132.25" y2="1001.09" stroke="#000" stroke-width="2"/>
<line x1="128.35" y1="994.32" x2="136.15" y2="994.32" stroke="#000" stroke-width="2"/>
<line x1="128.35" y1="1001.09" x2="136.15" y2="1001.09" stroke="#000" stroke-width="2"/>
<line x1="136.5" y1="992.98" x2="136.5" y2="1000.17" stroke="#000" stroke-width="2"/>
<line x1="132.6" y1="992.98" x2="140.4" y2="992.98" stroke="#000" stroke-width="2"/>
<line x1="132.6" y1="1000.17" x2="140.4" y2="1000.17" stroke="#000" stroke-width="2"/>
<line x1="140.75" y1="992.15" x2="140.75" y2="1010.94" stroke="#000" stroke-width="2"/>
<line x1="136.85" y1="992.15" x2="144.65" y2="992.15" stroke="#000" stroke-width="2"/>
<line x1="136.85" y1="1010.94" x2="144.65" y2="1010.94" stroke="#000" stroke-width="2"/>
<line x1="145" y1="987.47" x2="145" y2="1000.17" stroke="#000" stroke-width="2"/>
<line x1="141.1" y1="987.47" x2="148.9" y2="987.47" stroke="#000" stroke-width="2"/>
<line x1="141.1" y1="1000.17" x2="148.9" y2="1000.17" stroke="#000" stroke-width="2"/>
<line x1="149.25" y1="988.56" x2="149.25" y2="1002.92" stroke="#000" stroke-width="2"/>
<line x1="145.35" y1="988.56" x2="153.15" y2="988.56" stroke="#000" stroke-width="2"/>
<line x1="145.35" y1="1002.92" x2="153.15" y2="1002.92" stroke="#000" stroke-width="2"/>
<line x1="153.5" y1="988.56" x2="153.5" y2="1007.35" stroke="#000" stroke-width="2"/>
<line x1="149.6" y1="988.56" x2="157.4" y2="988.56" stroke="#000" stroke-width="2"/>
<line x1="149.6" y1="1007.35" x2="157.4" y2="1007.35" stroke="#000" stroke-width="2"/>
<line x1="157.75" y1="987.64" x2="157.75" y2="1003.76" stroke="#000" stroke-width="2"/>
<line x1="153.85" y1="987.64" x2="161.65" y2="987.64" stroke="#000" stroke-width="2"/>
<line x1="153.85" y1="1003.76" x2="161.65" y2="1003.76" stroke="#000" stroke-width="2"/>
<line x1="162" y1="989.56" x2="162" y2="1004.59" stroke="#000" stroke-width="2"/>
<line x1="158.1" y1="989.56" x2="165.9" y2="989.56" stroke="#000" stroke-width="2"/>
<line x1="158.1" y1="1004.59" x2="165.9" y2="1004.59" stroke="#000" stroke-width="2"/>
<line x1="166.25" y1="994.82" x2="166.25" y2="1009.35" stroke="#000" stroke-width="2"/>
<line x1="162.35" y1="994.82" x2="170.15" y2="994.82" stroke="#000" stroke-width="2"/>
<line x1="162.35" y1="1009.35" x2="170.15" y2="1009.35" stroke="#000" stroke-width="2"/>
<line x1="170.5" y1="978.2" x2="170.5" y2="1000.17" stroke="#000" stroke-width="2"/>
<line x1="166.6" y1="978.2" x2="174.4" y2="978.2" stroke="#000" stroke-width="2"/>
<line x1="166.6" y1="1000.17" x2="174.4" y2="1000.17" stroke="#000" stroke-width="2"/>
<line x1="174.75" y1="988.72" x2="174.75" y2="1003.76" stroke="#000" stroke-width="2"/>
<line x1="170.85" y1="988.72" x2="178.65" y2="988.72" stroke="#000" stroke-width="2"/>
<line x1="170.85" y1="1003.76" x2="178.65" y2="1003.76" stroke="#000" stroke-width="2"/>
<line x1="179" y1="989.39" x2="179" y2="1016.54" stroke="#000" stroke-width="2"/>
<line x1="175.1" y1="989.39" x2="182.9" y2="989.39" stroke="#000" stroke-width="2"/>
<line x1="175.1" y1="1016.54" x2="182.9" y2="1016.54" stroke="#000" stroke-width="2"/>
<line x1="183.25" y1="984.05" x2="183.25" y2="1003.76" stroke="#000" stroke-width="2"/>
<line x1="179.35" y1="984.05" x2="187.15" y2="984.05" stroke="#000" stroke-width="2"/>
<line x1="179.35" y1="1003.76" x2="187.15" y2="1003.76" stroke="#000" stroke-width="2"/>
<line x1="187.5" y1="984.05" x2="187.5" y2="1019.21" stroke="#000" stroke-width="2"/>
<line x1="183.6" y1="984.05" x2="191.4" y2="984.05" stroke="#000" stroke-width="2"/>
<line x1="183.6" y1="1019.21" x2="191.4" y2="1019.21" stroke="#000" stroke-width="2"/>
<line x1="191.75" y1="985.8" x2="191.75" y2="1003.76" stroke="#000" stroke-width="2"/>
<line x1="187.85" y1="985.8" x2="195.65" y2="985.8" stroke="#000" stroke-width="2"/>
<line x1="187.85" y1="1003.76" x2="195.65" y2="1003.76" stroke="#000" stroke-width="2"/>
<line x1="196" y1="990.4" x2="196" y2="1005.43" stroke="#000" stroke-width="2"/>
<line x1="192.1" y1="990.4" x2="199.9" y2="990.4" stroke="#000" stroke-width="2"/>
<line x1="192.1" y1="1005.43" x2="199.9" y2="1005.43" stroke="#000" stroke-width="2"/>
<line x1="200.25" y1="979.37" x2="200.25" y2="1006.51" stroke="#000" stroke-width="2"/>
<line x1="196.35" y1="979.37" x2="204.15" y2="979.37" stroke="#000" stroke-width="2"/>
<line x1="196.35" y1="1006.51" x2="204.15" y2="1006.51" stroke="#000" stroke-width="2"/>
<line x1="204.5" y1="986.22" x2="204.5" y2="1004.93" stroke="#000" stroke-width="2"/>
<line x1="200.6" y1="986.22" x2="208.4" y2="986.22" stroke="#000" stroke-width="2"/>
<line x1="200.6" y1="1004.93" x2="208.4" y2="1004.93" stroke="#000" stroke-width="2"/>
<line x1="208.75" y1="986.22" x2="208.75" y2="1004.93" stroke="#000" stroke-width="2"/>
<line x1="204.85" y1="986.22" x2="212.65" y2="986.22" stroke="#000" stroke-width="2"/>
<line x1="204.85" y1="1004.93" x2="212.65" y2="1004.93" stroke="#000" stroke-width="2"/>
<line x1="213" y1="986.22" x2="213" y2="1005.43" stroke="#000" stroke-width="2"/>
<line x1="209.1" y1="986.22" x2="216.9" y2="986.22" stroke="#000" stroke-width="2"/>
<line x1="209.1" y1="1005.43" x2="216.9" y2="1005.43" stroke="#000" stroke-width="2"/>
<line x1="217.25" y1="982.88" x2="217.25" y2="1007.1" stroke="#000" stroke-width="2"/>
<line x1="213.35" y1="982.88" x2="221.15" y2="982.88" stroke="#000" stroke-width="2"/>
<line x1="213.35" y1="1007.1" x2="221.15" y2="1007.1" stroke="#000" stroke-width="2"/>
<line x1="221.5" y1="973.27" x2="221.5" y2="1009.44" stroke="#000" stroke-width="2"/>
<line x1="217.6" y1="973.27" x2="225.4" y2="973.27" stroke="#000" stroke-width="2"/>
<line x1="217.6" y1="1009.44" x2="225.4" y2="1009.44" stroke="#000" stroke-width="2"/>
<line x1="225.75" y1="983.71" x2="225.75" y2="1014.37" stroke="#000" stroke-width="2"/>
<line x1="221.85" y1="983.71" x2="229.65" y2="983.71" stroke="#000" stroke-width="2"/>
<line x1="221.85" y1="1014.37" x2="229.65" y2="1014.37" stroke="#000" stroke-width="2"/>
<line x1="230" y1="984.55" x2="230" y2="1007.1" stroke="#000" stroke-width="2"/>
<line x1="226.1" y1="984.55" x2="233.9" y2="984.55" stroke="#000" stroke-width="2"/>
<line x1="226.1" y1="1007.1" x2="233.9" y2="1007.1" stroke="#000" stroke-width="2"/>
<line x1="234.25" y1="981.63" x2="234.25" y2="1015.7" stroke="#000" stroke-width="2"/>
<line x1="230.35" y1="981.63" x2="238.15" y2="981.63" stroke="#000" stroke-width="2"/>
<line x1="230.35" y1="1015.7" x2="238.15" y2="1015.7" stroke="#000" stroke-width="2"/>
<line x1="238.5" y1="985.38" x2="238.5" y2="1007.1" stroke="#000" stroke-width="2"/>
<line x1="234.6" y1="985.38" x2="242.4" y2="985.38" stroke="#000" stroke-width="2"/>
<line x1="234.6" y1="1007.1" x2="242.4" y2="1007.1" stroke="#000" stroke-width="2"/>
<line x1="242.75" y1="986.22" x2="242.75" y2="1006.77" stroke="#000" stroke-width="2"/>
<line x1="238.85" y1="986.22" x2="246.65" y2="986.22" stroke="#000" stroke-width="2"/>
<line x1="238.85" y1="1006.77" x2="246.65" y2="1006.77" stroke="#000" stroke-width="2"/>
<line x1="247" y1="987.05" x2="247" y2="1003.76" stroke="#000" stroke-width="2"/>
<line x1="243.1" y1="987.05" x2="250.9" y2="987.05" stroke="#000" stroke-width="2"/>
<line x1="243.1" y1="1003.76" x2="250.9" y2="1003.76" stroke="#000" stroke-width="2"/>
<line x1="251.25" y1="983.71" x2="251.25" y2="1002.09" stroke="#000" stroke-width="2"/>
<line x1="247.35" y1="983.71" x2="255.15" y2="983.71" stroke="#000" stroke-width="2"/>
<line x1="247.35" y1="1002.09" x2="255.15" y2="1002.09" stroke="#000" stroke-width="2"/>
<line x1="255.5" y1="968.43" x2="255.5" y2="993.74" stroke="#000" stroke-width="2"/>
<line x1="251.6" y1="968.43" x2="259.4" y2="968.43" stroke="#000" stroke-width="2"/>
<line x1="251.6" y1="993.74" x2="259.4" y2="993.74" stroke="#000" stroke-width="2"/>
<line x1="259.75" y1="981.63" x2="259.75" y2="1002.76" stroke="#000" stroke-width="2"/>
<line x1="255.85" y1="981.63" x2="263.65" y2="981.63" stroke="#000" stroke-width="2"/>
<line x1="255.85" y1="1002.76" x2="263.65" y2="1002.76" stroke="#000" stroke-width="2"/>
<line x1="264" y1="985.38" x2="264" y2="1006.26" stroke="#000" stroke-width="2"/>
<line x1="260.1" y1="985.38" x2="267.9" y2="985.38" stroke="#000" stroke-width="2"/>
<line x1="260.1" y1="1006.26" x2="267.9" y2="1006.26" stroke="#000" stroke-width="2"/>
<line x1="268.25" y1="969.01" x2="268.25" y2="1014.37" stroke="#000" stroke-width="2"/>
<line x1="264.35" y1="969.01" x2="272.15" y2="969.01" stroke="#000" stroke-width="2"/>
<line x1="264.35" y1="1014.37" x2="272.15" y2="1014.37" stroke="#000" stroke-width="2"/>
<line x1="272.5" y1="985.38" x2="272.5" y2="1007.1" stroke="#000" stroke-width="2"/>
<line x1="268.6" y1="985.38" x2="276.4" y2="985.38" stroke="#000" stroke-width="2"/>
<line x1="268.6" y1="1007.1" x2="276.4" y2="1007.1" stroke="#000" stroke-width="2"/>
<line x1="276.75" y1="985.38" x2="276.75" y2="1008.77" stroke="#000" stroke-width="2"/>
<line x1="272.85" y1="985.38" x2="280.65" y2="985.38" stroke="#000" stroke-width="2"/>
<line x1="272.85" y1="1008.77" x2="280.65" y2="1008.77" stroke="#000" stroke-width="2"/>
<line x1="281" y1="979.37" x2="281" y2="1013.61" stroke="#000" stroke-width="2"/>
<line x1="277.1" y1="979.37" x2="284.9" y2="979.37" stroke="#000" stroke-width="2"/>
<line x1="277.1" y1="1013.61" x2="284.9" y2="1013.61" stroke="#000" stroke-width="2"/>
<line x1="285.25" y1="985.38" x2="285.25" y2="1013.61" stroke="#000" stroke-width="2"/>
<line x1="281.35" y1="985.38" x2="289.15" y2="985.38" stroke="#000" stroke-width="2"/>
<line x1="281.35" y1="1013.61" x2="289.15" y2="1013.61" stroke="#000" stroke-width="2"/>
<line x1="289.5" y1="978.03" x2="289.5" y2="1019.96" stroke="#000" stroke-width="2"/>
<line x1="285.6" y1="978.03" x2="293.4" y2="978.03" stroke="#000" stroke-width="2"/>
<line x1="285.6" y1="1019.96" x2="293.4" y2="1019.96" stroke="#000" stroke-width="2"/>
<line x1="293.75" y1="985.38" x2="293.75" y2="1008.77" stroke="#000" stroke-width="2"/>
<line x1="289.85" y1="985.38" x2="297.65" y2="985.38" stroke="#000" stroke-width="2"/>
<line x1="289.85" y1="1008.77" x2="297.65" y2="1008.77" stroke="#000" stroke-width="2"/>
<line x1="298" y1="990.4" x2="298" y2="1008.77" stroke="#000" stroke-width="2"/>
<line x1="294.1" y1="990.4" x2="301.9" y2="990.4" stroke="#000" stroke-width="2"/>
<line x1="294.1" y1="1008.77" x2="301.9" y2="1008.77" stroke="#000" stroke-width="2"/>
<line x1="302.25" y1="992.07" x2="302.25" y2="1010.44" stroke="#000" stroke-width="2"/>
<line x1="298.35" y1="992.07" x2="306.15" y2="992.07" stroke="#000" stroke-width="2"/>
<line x1="298.35" y1="1010.44" x2="306.15" y2="1010.44" stroke="#000" stroke-width="2"/>
<line x1="306.5" y1="996.91" x2="306.5" y2="1018.96" stroke="#000" stroke-width="2"/>
<line x1="302.6" y1="996.91" x2="310.4" y2="996.91" stroke="#000" stroke-width="2"/>
<line x1="302.6" y1="1018.96" x2="310.4" y2="1018.96" stroke="#000" stroke-width="2"/>
<polyline points="88.85,1008.98 93.1,1008.98 97.35,1009.19 101.6,1012.44 105.85,1009.19 110.1,1009.19 114.35,1011.11 118.6,1008.35 119.5,1000.42 123.75,1000 128,999.08 132.25,997.7 136.5,996.58 140.75,1001.55 145,993.82 149.25,995.74 153.5,997.95 157.75,995.7 162,997.08 166.25,1002.09 170.5,989.18 174.75,996.24 179,1002.96 183.25,993.9 187.5,1001.63 191.75,994.78 196,997.91 200.25,992.94 204.5,995.57 208.75,995.57 213,995.82 217.25,994.99 221.5,991.36 225.75,999.04 230,995.82 234.25,998.66 238.5,996.24 242.75,996.49 247,995.41 251.25,992.9 255.5,981.08 259.75,992.19 264,995.82 268.25,991.69 272.5,996.24 276.75,997.08 281,996.49 285.25,999.5 289.5,999 293.75,997.08 298,999.58 302.25,1001.25 306.5,1007.93" fill="none" stroke="#000" stroke-width="2.2" stroke-linejoin="miter" stroke-miterlimit="6"/>
<line x1="86.8" y1="842.45" x2="86.8" y2="1053.15" stroke="#000" stroke-width="1.9"/>
<line x1="80.35" y1="843.4" x2="86.8" y2="843.4" stroke="#000" stroke-width="1.9"/>
<text transform="translate(78.8 849.49) scale(0.926 1)" font-size="17.3" font-weight="bold" text-anchor="end">0.20</text>
<line x1="80.35" y1="885.16" x2="86.8" y2="885.16" stroke="#000" stroke-width="1.9"/>
<text transform="translate(78.8 891.25) scale(0.926 1)" font-size="17.3" font-weight="bold" text-anchor="end">0.15</text>
<line x1="80.35" y1="926.92" x2="86.8" y2="926.92" stroke="#000" stroke-width="1.9"/>
<text transform="translate(78.8 933.01) scale(0.926 1)" font-size="17.3" font-weight="bold" text-anchor="end">0.10</text>
<line x1="80.35" y1="968.68" x2="86.8" y2="968.68" stroke="#000" stroke-width="1.9"/>
<text transform="translate(78.8 974.77) scale(0.926 1)" font-size="17.3" font-weight="bold" text-anchor="end">0.05</text>
<line x1="80.35" y1="1010.44" x2="86.8" y2="1010.44" stroke="#000" stroke-width="1.9"/>
<text transform="translate(78.8 1016.53) scale(0.926 1)" font-size="17.3" font-weight="bold" text-anchor="end">0.00</text>
<line x1="80.35" y1="1052.2" x2="86.8" y2="1052.2" stroke="#000" stroke-width="1.9"/>
<text transform="translate(78.8 1058.29) scale(0.926 1)" font-size="17.3" font-weight="bold" text-anchor="end">-0.05</text>
<line x1="85.85" y1="1052.2" x2="313.6" y2="1052.2" stroke="#000" stroke-width="1.9"/>
<line x1="118.5" y1="1052.2" x2="118.5" y2="1059.15" stroke="#000" stroke-width="1.9"/>
<text transform="translate(118.5 1076.5) scale(0.926 1)" font-size="17.3" font-weight="bold" text-anchor="middle">0</text>
<line x1="183.23" y1="1052.2" x2="183.23" y2="1059.15" stroke="#000" stroke-width="1.9"/>
<text transform="translate(183.23 1076.5) scale(0.926 1)" font-size="17.3" font-weight="bold" text-anchor="middle">500</text>
<line x1="247.97" y1="1052.2" x2="247.97" y2="1059.15" stroke="#000" stroke-width="1.9"/>
<text transform="translate(247.97 1076.5) scale(0.926 1)" font-size="17.3" font-weight="bold" text-anchor="middle">1000</text>
<line x1="312.7" y1="1052.2" x2="312.7" y2="1059.15" stroke="#000" stroke-width="1.9"/>
<text transform="translate(312.7 1076.5) scale(0.926 1)" font-size="17.3" font-weight="bold" text-anchor="middle">1500</text>
<text transform="translate(201.2 1101.7) scale(1.020 1)" font-size="17" font-weight="bold" text-anchor="middle">Time (sec)</text>
<text transform="translate(15.2 947.8) rotate(-90) scale(1.020 1)" font-size="17" font-weight="bold" text-anchor="middle"><tspan font-family="'Liberation Serif', serif" font-weight="normal">&#916;</tspan>BRET ratio (535/475)</text>
<text transform="translate(35.2 947.8) rotate(-90) scale(1.020 1)" font-size="17" font-weight="bold" text-anchor="middle">(agonist - vehicle)</text>
<text transform="translate(6 808.5) scale(0.935 1)" font-size="20.3" font-weight="bold" text-anchor="start">G</text>
<text transform="translate(199.2 812.6)" font-size="20.4" font-weight="bold" text-anchor="middle">CB<tspan dy="4.28" font-size="14.69">2</tspan><tspan dy="-4.28">&#8203;</tspan>, 1 <tspan font-family="'Liberation Serif', serif" font-weight="normal">&#956;</tspan>M CP</text>
<line x1="137" y1="849.5" x2="158" y2="849.5" stroke="#98989f" stroke-width="2.2"/>
<line x1="137" y1="877.6" x2="158" y2="877.6" stroke="#000" stroke-width="2.2"/>
<text transform="translate(171.8 854) scale(1.020 1)" font-size="16.6" font-weight="normal" text-anchor="start">CB<tspan dy="3.49" font-size="11.95">2</tspan><tspan dy="-3.49">&#8203;</tspan></text>
<text transform="translate(171.8 882) scale(1.020 1)" font-size="16.6" font-weight="normal" text-anchor="start">CB<tspan dy="3.49" font-size="11.95">2</tspan><tspan dy="-3.49">&#8203;</tspan> + GRK2</text>
<line x1="441.2" y1="1025.4" x2="654.4" y2="1025.4" stroke="#000" stroke-width="1.9" stroke-dasharray="1.9 4.28" stroke-dashoffset="0"/>
<circle cx="459.3" cy="994.14" r="4.2" fill="#000"/>
<circle cx="453.5" cy="1000.18" r="4.2" fill="#000"/>
<circle cx="465.5" cy="1009.77" r="4.2" fill="#000"/>
<line x1="447.6" y1="1001.13" x2="471" y2="1001.13" stroke="#000" stroke-width="1.85"/>
<line x1="459.3" y1="996.27" x2="459.3" y2="1006.1" stroke="#000" stroke-width="2.7"/>
<line x1="453.6" y1="996.27" x2="465" y2="996.27" stroke="#000" stroke-width="2.7"/>
<line x1="453.6" y1="1006.1" x2="465" y2="1006.1" stroke="#000" stroke-width="2.7"/>
<circle cx="488.1" cy="1004.21" r="4.2" fill="#000"/>
<circle cx="494.7" cy="1005.39" r="4.2" fill="#000"/>
<circle cx="501.1" cy="1013.8" r="4.2" fill="#000"/>
<line x1="482.6" y1="1007.88" x2="506" y2="1007.88" stroke="#000" stroke-width="1.85"/>
<line x1="494.3" y1="1004.92" x2="494.3" y2="1010.84" stroke="#000" stroke-width="2.7"/>
<line x1="488.6" y1="1004.92" x2="500" y2="1004.92" stroke="#000" stroke-width="2.7"/>
<line x1="488.6" y1="1010.84" x2="500" y2="1010.84" stroke="#000" stroke-width="2.7"/>
<circle cx="523.4" cy="982.07" r="4.2" fill="#000"/>
<circle cx="529.6" cy="991.66" r="4.2" fill="#000"/>
<circle cx="536.3" cy="991.66" r="4.2" fill="#000"/>
<line x1="517.9" y1="988.1" x2="541.3" y2="988.1" stroke="#000" stroke-width="1.85"/>
<line x1="529.6" y1="985.03" x2="529.6" y2="991.42" stroke="#000" stroke-width="2.7"/>
<line x1="523.9" y1="985.03" x2="535.3" y2="985.03" stroke="#000" stroke-width="2.7"/>
<line x1="523.9" y1="991.42" x2="535.3" y2="991.42" stroke="#000" stroke-width="2.7"/>
<circle cx="558.7" cy="1015.57" r="4.2" fill="#000"/>
<circle cx="565.1" cy="1018.65" r="4.2" fill="#000"/>
<circle cx="571.6" cy="1023.98" r="4.2" fill="#000"/>
<line x1="553.2" y1="1019.36" x2="576.6" y2="1019.36" stroke="#000" stroke-width="1.85"/>
<line x1="564.9" y1="1016.88" x2="564.9" y2="1021.85" stroke="#000" stroke-width="2.7"/>
<line x1="559.2" y1="1016.88" x2="570.6" y2="1016.88" stroke="#000" stroke-width="2.7"/>
<line x1="559.2" y1="1021.85" x2="570.6" y2="1021.85" stroke="#000" stroke-width="2.7"/>
<circle cx="593.7" cy="1002.31" r="4.2" fill="#000"/>
<circle cx="599.9" cy="1007.88" r="4.2" fill="#000"/>
<circle cx="606.4" cy="1013.8" r="4.2" fill="#000"/>
<line x1="588.2" y1="1008.35" x2="611.6" y2="1008.35" stroke="#000" stroke-width="1.85"/>
<line x1="599.9" y1="1004.68" x2="599.9" y2="1011.43" stroke="#000" stroke-width="2.7"/>
<line x1="594.2" y1="1004.68" x2="605.6" y2="1004.68" stroke="#000" stroke-width="2.7"/>
<line x1="594.2" y1="1011.43" x2="605.6" y2="1011.43" stroke="#000" stroke-width="2.7"/>
<circle cx="629.7" cy="1015.81" r="4.2" fill="#000"/>
<circle cx="641.2" cy="1015.81" r="4.2" fill="#000"/>
<circle cx="635.2" cy="1033.1" r="4.2" fill="#000"/>
<line x1="623.5" y1="1021.49" x2="646.9" y2="1021.49" stroke="#000" stroke-width="1.85"/>
<line x1="635.2" y1="1015.81" x2="635.2" y2="1027.06" stroke="#000" stroke-width="2.7"/>
<line x1="629.5" y1="1015.81" x2="640.9" y2="1015.81" stroke="#000" stroke-width="2.7"/>
<line x1="629.5" y1="1027.06" x2="640.9" y2="1027.06" stroke="#000" stroke-width="2.7"/>
<line x1="436.2" y1="846.85" x2="436.2" y2="1055.75" stroke="#000" stroke-width="1.9"/>
<line x1="429.75" y1="847.8" x2="436.2" y2="847.8" stroke="#000" stroke-width="1.9"/>
<text transform="translate(428.2 853.89) scale(0.926 1)" font-size="17.3" font-weight="bold" text-anchor="end">150</text>
<line x1="429.75" y1="907" x2="436.2" y2="907" stroke="#000" stroke-width="1.9"/>
<text transform="translate(428.2 913.09) scale(0.926 1)" font-size="17.3" font-weight="bold" text-anchor="end">100</text>
<line x1="429.75" y1="966.2" x2="436.2" y2="966.2" stroke="#000" stroke-width="1.9"/>
<text transform="translate(428.2 972.29) scale(0.926 1)" font-size="17.3" font-weight="bold" text-anchor="end">50</text>
<line x1="429.75" y1="1025.4" x2="436.2" y2="1025.4" stroke="#000" stroke-width="1.9"/>
<text transform="translate(428.2 1031.49) scale(0.926 1)" font-size="17.3" font-weight="bold" text-anchor="end">0</text>
<line x1="435.25" y1="1054.8" x2="660" y2="1054.8" stroke="#000" stroke-width="1.9"/>
<line x1="459.3" y1="1054.8" x2="459.3" y2="1060.8" stroke="#000" stroke-width="1.9"/>
<text transform="translate(464.3 1074.7) rotate(-45) scale(0.930 1)" font-size="16.5" font-weight="bold" text-anchor="end">1 <tspan font-family="'Liberation Serif', serif" font-weight="normal">&#956;</tspan>M CP55,940</text>
<line x1="494.3" y1="1054.8" x2="494.3" y2="1060.8" stroke="#000" stroke-width="1.9"/>
<text transform="translate(499.3 1074.7) rotate(-45) scale(0.930 1)" font-size="16.5" font-weight="bold" text-anchor="end">31.6 <tspan font-family="'Liberation Serif', serif" font-weight="normal">&#956;</tspan>M 2-AG</text>
<line x1="529.6" y1="1054.8" x2="529.6" y2="1060.8" stroke="#000" stroke-width="1.9"/>
<text transform="translate(534.6 1074.7) rotate(-45) scale(0.930 1)" font-size="16.5" font-weight="bold" text-anchor="end">10 <tspan font-family="'Liberation Serif', serif" font-weight="normal">&#956;</tspan>M JWH-015</text>
<line x1="564.9" y1="1054.8" x2="564.9" y2="1060.8" stroke="#000" stroke-width="1.9"/>
<text transform="translate(569.9 1074.7) rotate(-45) scale(0.930 1)" font-size="16.5" font-weight="bold" text-anchor="end">10 <tspan font-family="'Liberation Serif', serif" font-weight="normal">&#956;</tspan>M JWH-133</text>
<line x1="599.9" y1="1054.8" x2="599.9" y2="1060.8" stroke="#000" stroke-width="1.9"/>
<text transform="translate(604.9 1074.7) rotate(-45) scale(0.930 1)" font-size="16.5" font-weight="bold" text-anchor="end">10 <tspan font-family="'Liberation Serif', serif" font-weight="normal">&#956;</tspan>M THC</text>
<line x1="635.2" y1="1054.8" x2="635.2" y2="1060.8" stroke="#000" stroke-width="1.9"/>
<text transform="translate(640.2 1074.7) rotate(-45) scale(0.930 1)" font-size="16.5" font-weight="bold" text-anchor="end">10 <tspan font-family="'Liberation Serif', serif" font-weight="normal">&#956;</tspan>M WIN55,212-2</text>
<text transform="translate(371.2 951.3) rotate(-90) scale(1.020 1)" font-size="17" font-weight="bold" text-anchor="middle">h<tspan font-family="'Liberation Serif', serif" font-weight="normal" font-size="114%">&#946;</tspan>-arrestin-1 translocation</text>
<text transform="translate(393.1 951.3) rotate(-90) scale(1.020 1)" font-size="17" font-weight="bold" text-anchor="middle">(<tspan font-family="'Liberation Serif', serif" font-weight="normal">&#916;</tspan>BRET.sec)</text>
<text transform="translate(338.5 808.5) scale(0.935 1)" font-size="20.3" font-weight="bold" text-anchor="start">H</text>
<text transform="translate(548.6 815.9)" font-size="20.4" font-weight="bold" text-anchor="middle">CB<tspan dy="4.28" font-size="14.69">2</tspan><tspan dy="-4.28">&#8203;</tspan></text>
<line x1="769.3" y1="1025" x2="876" y2="1025" stroke="#000" stroke-width="1.9" stroke-dasharray="1.9 4.28" stroke-dashoffset="0"/>
<circle cx="785.7" cy="996.36" r="4.2" fill="#000"/>
<circle cx="796.5" cy="998.38" r="4.2" fill="#000"/>
<circle cx="807.3" cy="1000.86" r="4.2" fill="#000"/>
<line x1="780.65" y1="998.61" x2="812.35" y2="998.61" stroke="#000" stroke-width="1.85"/>
<line x1="796.5" y1="997.31" x2="796.5" y2="999.91" stroke="#000" stroke-width="2.7"/>
<line x1="788.85" y1="997.31" x2="804.15" y2="997.31" stroke="#000" stroke-width="2.7"/>
<line x1="788.85" y1="999.91" x2="804.15" y2="999.91" stroke="#000" stroke-width="2.7"/>
<circle cx="844.8" cy="997.55" r="4.2" fill="#000"/>
<circle cx="837" cy="1002.87" r="4.2" fill="#000"/>
<circle cx="852.7" cy="1014.35" r="4.2" fill="#000"/>
<line x1="828.35" y1="1004.76" x2="860.05" y2="1004.76" stroke="#000" stroke-width="1.85"/>
<line x1="844.2" y1="1000.15" x2="844.2" y2="1010.33" stroke="#000" stroke-width="2.7"/>
<line x1="836.55" y1="1000.15" x2="851.85" y2="1000.15" stroke="#000" stroke-width="2.7"/>
<line x1="836.55" y1="1010.33" x2="851.85" y2="1010.33" stroke="#000" stroke-width="2.7"/>
<line x1="764.3" y1="846.55" x2="764.3" y2="1055.45" stroke="#000" stroke-width="1.9"/>
<line x1="757.85" y1="847.5" x2="764.3" y2="847.5" stroke="#000" stroke-width="1.9"/>
<text transform="translate(756.3 853.59) scale(0.926 1)" font-size="17.3" font-weight="bold" text-anchor="end">150</text>
<line x1="757.85" y1="906.67" x2="764.3" y2="906.67" stroke="#000" stroke-width="1.9"/>
<text transform="translate(756.3 912.76) scale(0.926 1)" font-size="17.3" font-weight="bold" text-anchor="end">100</text>
<line x1="757.85" y1="965.83" x2="764.3" y2="965.83" stroke="#000" stroke-width="1.9"/>
<text transform="translate(756.3 971.92) scale(0.926 1)" font-size="17.3" font-weight="bold" text-anchor="end">50</text>
<line x1="757.85" y1="1025" x2="764.3" y2="1025" stroke="#000" stroke-width="1.9"/>
<text transform="translate(756.3 1031.09) scale(0.926 1)" font-size="17.3" font-weight="bold" text-anchor="end">0</text>
<line x1="763.35" y1="1054.5" x2="877.8" y2="1054.5" stroke="#000" stroke-width="1.9"/>
<line x1="796.5" y1="1054.5" x2="796.5" y2="1060.5" stroke="#000" stroke-width="1.9"/>
<text transform="translate(801.5 1074.4) rotate(-45) scale(0.930 1)" font-size="16.5" font-weight="bold" text-anchor="end">1 <tspan font-family="'Liberation Serif', serif" font-weight="normal">&#956;</tspan>M CP55,940</text>
<line x1="844.2" y1="1054.5" x2="844.2" y2="1060.5" stroke="#000" stroke-width="1.9"/>
<text transform="translate(849.2 1074.4) rotate(-45) scale(0.930 1)" font-size="16.5" font-weight="bold" text-anchor="end">31.6 <tspan font-family="'Liberation Serif', serif" font-weight="normal">&#956;</tspan>M 2-AG</text>
<text transform="translate(699.7 951) rotate(-90) scale(1.020 1)" font-size="17" font-weight="bold" text-anchor="middle">h<tspan font-family="'Liberation Serif', serif" font-weight="normal" font-size="114%">&#946;</tspan>-arrestin-1 translocation</text>
<text transform="translate(721.4 951) rotate(-90) scale(1.020 1)" font-size="17" font-weight="bold" text-anchor="middle">(<tspan font-family="'Liberation Serif', serif" font-weight="normal">&#916;</tspan>BRET.sec)</text>
<text transform="translate(688 808.5) scale(0.935 1)" font-size="20.3" font-weight="bold" text-anchor="start">I</text>
<text transform="translate(821.3 815.9)" font-size="20.4" font-weight="bold" text-anchor="middle">CB<tspan dy="4.28" font-size="14.69">2</tspan><tspan dy="-4.28">&#8203;</tspan> + GRK2</text>
<circle cx="135.7" cy="1279.57" r="4.2" fill="#000"/>
<circle cx="129.2" cy="1289.56" r="4.2" fill="#000"/>
<circle cx="141.1" cy="1298.98" r="4.2" fill="#000"/>
<line x1="124.4" y1="1289.56" x2="146" y2="1289.56" stroke="#000" stroke-width="1.85"/>
<line x1="135.2" y1="1283.55" x2="135.2" y2="1295.79" stroke="#000" stroke-width="2.7"/>
<line x1="129.55" y1="1283.55" x2="140.85" y2="1283.55" stroke="#000" stroke-width="2.7"/>
<line x1="129.55" y1="1295.79" x2="140.85" y2="1295.79" stroke="#000" stroke-width="2.7"/>
<circle cx="162.6" cy="1263.35" r="4.2" fill="#000"/>
<circle cx="173.7" cy="1266.86" r="4.2" fill="#000"/>
<circle cx="168.3" cy="1291.66" r="4.2" fill="#000"/>
<line x1="157.2" y1="1274.18" x2="178.8" y2="1274.18" stroke="#000" stroke-width="1.85"/>
<line x1="168" y1="1265.55" x2="168" y2="1283.08" stroke="#000" stroke-width="2.7"/>
<line x1="162.35" y1="1265.55" x2="173.65" y2="1265.55" stroke="#000" stroke-width="2.7"/>
<line x1="162.35" y1="1283.08" x2="173.65" y2="1283.08" stroke="#000" stroke-width="2.7"/>
<circle cx="200.7" cy="1263.35" r="4.2" fill="#000"/>
<circle cx="195.8" cy="1278.94" r="4.2" fill="#000"/>
<circle cx="206.6" cy="1284.18" r="4.2" fill="#000"/>
<line x1="189.9" y1="1275.44" x2="211.5" y2="1275.44" stroke="#000" stroke-width="1.85"/>
<line x1="200.7" y1="1268.74" x2="200.7" y2="1281.66" stroke="#000" stroke-width="2.7"/>
<line x1="195.05" y1="1268.74" x2="206.35" y2="1268.74" stroke="#000" stroke-width="2.7"/>
<line x1="195.05" y1="1281.66" x2="206.35" y2="1281.66" stroke="#000" stroke-width="2.7"/>
<circle cx="233.6" cy="1182.3" r="4.2" fill="#000"/>
<circle cx="228.2" cy="1238.23" r="4.2" fill="#000"/>
<circle cx="239" cy="1241.16" r="4.2" fill="#000"/>
<line x1="222.8" y1="1220.65" x2="244.4" y2="1220.65" stroke="#000" stroke-width="1.85"/>
<line x1="233.6" y1="1200.72" x2="233.6" y2="1240.33" stroke="#000" stroke-width="2.7"/>
<line x1="227.95" y1="1200.72" x2="239.25" y2="1200.72" stroke="#000" stroke-width="2.7"/>
<line x1="227.95" y1="1240.33" x2="239.25" y2="1240.33" stroke="#000" stroke-width="2.7"/>
<circle cx="266.6" cy="1201.24" r="4.2" fill="#000"/>
<circle cx="261.2" cy="1210.14" r="4.2" fill="#000"/>
<circle cx="272" cy="1222.01" r="4.2" fill="#000"/>
<line x1="255.8" y1="1211.23" x2="277.4" y2="1211.23" stroke="#000" stroke-width="1.85"/>
<line x1="266.6" y1="1205.27" x2="266.6" y2="1217.41" stroke="#000" stroke-width="2.7"/>
<line x1="260.95" y1="1205.27" x2="272.25" y2="1205.27" stroke="#000" stroke-width="2.7"/>
<line x1="260.95" y1="1217.41" x2="272.25" y2="1217.41" stroke="#000" stroke-width="2.7"/>
<circle cx="299.2" cy="1243.94" r="4.2" fill="#000"/>
<circle cx="299.2" cy="1266.07" r="4.2" fill="#000"/>
<circle cx="299.2" cy="1281.45" r="4.2" fill="#000"/>
<line x1="288.4" y1="1263.35" x2="310" y2="1263.35" stroke="#000" stroke-width="1.85"/>
<line x1="299.2" y1="1252.52" x2="299.2" y2="1274.65" stroke="#000" stroke-width="2.7"/>
<line x1="293.55" y1="1252.52" x2="304.85" y2="1252.52" stroke="#000" stroke-width="2.7"/>
<line x1="293.55" y1="1274.65" x2="304.85" y2="1274.65" stroke="#000" stroke-width="2.7"/>
<circle cx="326.8" cy="1259.27" r="4.2" fill="#000"/>
<circle cx="332.2" cy="1265.55" r="4.2" fill="#000"/>
<circle cx="337.6" cy="1268.74" r="4.2" fill="#000"/>
<line x1="321.4" y1="1264.97" x2="343" y2="1264.97" stroke="#000" stroke-width="1.85"/>
<line x1="332.2" y1="1261.94" x2="332.2" y2="1267.95" stroke="#000" stroke-width="2.7"/>
<line x1="326.55" y1="1261.94" x2="337.85" y2="1261.94" stroke="#000" stroke-width="2.7"/>
<line x1="326.55" y1="1267.95" x2="337.85" y2="1267.95" stroke="#000" stroke-width="2.7"/>
<line x1="113.7" y1="1157.75" x2="113.7" y2="1368.95" stroke="#000" stroke-width="1.9"/>
<line x1="107.25" y1="1158.7" x2="113.7" y2="1158.7" stroke="#000" stroke-width="1.9"/>
<text transform="translate(105.7 1164.79) scale(0.926 1)" font-size="17.3" font-weight="bold" text-anchor="end">400000</text>
<line x1="107.25" y1="1211.03" x2="113.7" y2="1211.03" stroke="#000" stroke-width="1.9"/>
<text transform="translate(105.7 1217.11) scale(0.926 1)" font-size="17.3" font-weight="bold" text-anchor="end">300000</text>
<line x1="107.25" y1="1263.35" x2="113.7" y2="1263.35" stroke="#000" stroke-width="1.9"/>
<text transform="translate(105.7 1269.44) scale(0.926 1)" font-size="17.3" font-weight="bold" text-anchor="end">200000</text>
<line x1="107.25" y1="1315.67" x2="113.7" y2="1315.67" stroke="#000" stroke-width="1.9"/>
<text transform="translate(105.7 1321.76) scale(0.926 1)" font-size="17.3" font-weight="bold" text-anchor="end">100000</text>
<line x1="107.25" y1="1368" x2="113.7" y2="1368" stroke="#000" stroke-width="1.9"/>
<text transform="translate(105.7 1374.09) scale(0.926 1)" font-size="17.3" font-weight="bold" text-anchor="end">0</text>
<line x1="112.75" y1="1368" x2="354.3" y2="1368" stroke="#000" stroke-width="1.9"/>
<line x1="135.2" y1="1368" x2="135.2" y2="1374" stroke="#000" stroke-width="1.9"/>
<text transform="translate(140.7 1386.8) rotate(-45) scale(0.960 1)" font-size="16.5" font-weight="bold" text-anchor="end">V<tspan dy="3.46" font-size="11.88" font-weight="normal">2</tspan><tspan dy="-3.46">&#8203;</tspan>R</text>
<line x1="168" y1="1368" x2="168" y2="1374" stroke="#000" stroke-width="1.9"/>
<text transform="translate(173.5 1386.8) rotate(-45) scale(0.960 1)" font-size="16.5" font-weight="bold" text-anchor="end">D<tspan dy="3.46" font-size="11.88" font-weight="normal">2</tspan><tspan dy="-3.46">&#8203;</tspan>R</text>
<line x1="200.7" y1="1368" x2="200.7" y2="1374" stroke="#000" stroke-width="1.9"/>
<text transform="translate(206.2 1386.8) rotate(-45) scale(0.960 1)" font-size="16.5" font-weight="bold" text-anchor="end">D<tspan dy="3.46" font-size="11.88" font-weight="normal">2</tspan><tspan dy="-3.46">&#8203;</tspan>R + GRK2</text>
<line x1="233.6" y1="1368" x2="233.6" y2="1374" stroke="#000" stroke-width="1.9"/>
<text transform="translate(239.1 1386.8) rotate(-45) scale(0.960 1)" font-size="16.5" font-weight="bold" text-anchor="end">CB<tspan dy="3.46" font-size="11.88" font-weight="normal">1</tspan><tspan dy="-3.46">&#8203;</tspan></text>
<line x1="266.6" y1="1368" x2="266.6" y2="1374" stroke="#000" stroke-width="1.9"/>
<text transform="translate(272.1 1386.8) rotate(-45) scale(0.960 1)" font-size="16.5" font-weight="bold" text-anchor="end">CB<tspan dy="3.46" font-size="11.88" font-weight="normal">1</tspan><tspan dy="-3.46">&#8203;</tspan>+ GRK2</text>
<line x1="299.2" y1="1368" x2="299.2" y2="1374" stroke="#000" stroke-width="1.9"/>
<text transform="translate(304.7 1386.8) rotate(-45) scale(0.960 1)" font-size="16.5" font-weight="bold" text-anchor="end">CB<tspan dy="3.46" font-size="11.88" font-weight="normal">2</tspan><tspan dy="-3.46">&#8203;</tspan></text>
<line x1="332.2" y1="1368" x2="332.2" y2="1374" stroke="#000" stroke-width="1.9"/>
<text transform="translate(337.7 1386.8) rotate(-45) scale(0.960 1)" font-size="16.5" font-weight="bold" text-anchor="end">CB<tspan dy="3.46" font-size="11.88" font-weight="normal">2</tspan><tspan dy="-3.46">&#8203;</tspan>+ GRK2</text>
<text transform="translate(25 1262) rotate(-90) scale(1.020 1)" font-size="17" font-weight="bold" text-anchor="middle">Integrated intensity</text>
<text transform="translate(46 1262) rotate(-90) scale(1.020 1)" font-size="17" font-weight="bold" text-anchor="middle">per positive cell (AU)</text>
<text transform="translate(5.8 1142.6) scale(0.935 1)" font-size="20.3" font-weight="bold" text-anchor="start">J</text>
</svg>
</body>
</html>
